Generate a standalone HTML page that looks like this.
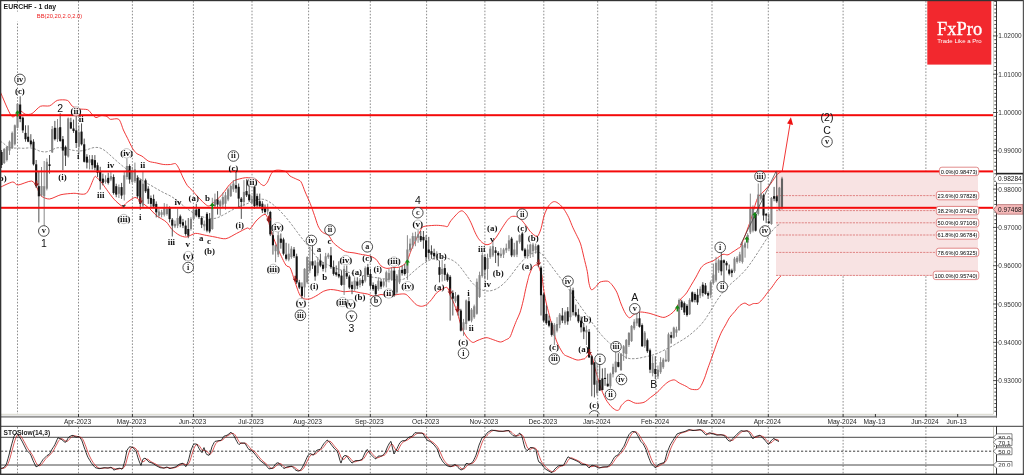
<!DOCTYPE html>
<html><head><meta charset="utf-8"><title>EURCHF - 1 day</title>
<style>
html,body{margin:0;padding:0;background:#fff;width:1024px;height:475px;overflow:hidden;font-family:"Liberation Sans",sans-serif;}
</style></head><body>
<svg width="1024" height="475" viewBox="0 0 1024 475" style="display:block;position:absolute;left:0;top:0;will-change:transform;opacity:0.9999">
<rect x="0" y="0" width="1024" height="475" fill="#ffffff"/>
<line x1="17.5" y1="1" x2="17.5" y2="414" stroke="#8e8e8e" stroke-width="1" stroke-dasharray="1.6 1.6"/>
<line x1="17.5" y1="427" x2="17.5" y2="474" stroke="#8e8e8e" stroke-width="1" stroke-dasharray="1.6 1.6"/>
<line x1="78.5" y1="1" x2="78.5" y2="414" stroke="#8e8e8e" stroke-width="1" stroke-dasharray="1.6 1.6"/>
<line x1="78.5" y1="427" x2="78.5" y2="474" stroke="#8e8e8e" stroke-width="1" stroke-dasharray="1.6 1.6"/>
<line x1="132.4" y1="1" x2="132.4" y2="414" stroke="#8e8e8e" stroke-width="1" stroke-dasharray="1.6 1.6"/>
<line x1="132.4" y1="427" x2="132.4" y2="474" stroke="#8e8e8e" stroke-width="1" stroke-dasharray="1.6 1.6"/>
<line x1="193.4" y1="1" x2="193.4" y2="414" stroke="#8e8e8e" stroke-width="1" stroke-dasharray="1.6 1.6"/>
<line x1="193.4" y1="427" x2="193.4" y2="474" stroke="#8e8e8e" stroke-width="1" stroke-dasharray="1.6 1.6"/>
<line x1="252.0" y1="1" x2="252.0" y2="414" stroke="#8e8e8e" stroke-width="1" stroke-dasharray="1.6 1.6"/>
<line x1="252.0" y1="427" x2="252.0" y2="474" stroke="#8e8e8e" stroke-width="1" stroke-dasharray="1.6 1.6"/>
<line x1="308.6" y1="1" x2="308.6" y2="414" stroke="#8e8e8e" stroke-width="1" stroke-dasharray="1.6 1.6"/>
<line x1="308.6" y1="427" x2="308.6" y2="474" stroke="#8e8e8e" stroke-width="1" stroke-dasharray="1.6 1.6"/>
<line x1="370.3" y1="1" x2="370.3" y2="414" stroke="#8e8e8e" stroke-width="1" stroke-dasharray="1.6 1.6"/>
<line x1="370.3" y1="427" x2="370.3" y2="474" stroke="#8e8e8e" stroke-width="1" stroke-dasharray="1.6 1.6"/>
<line x1="426.6" y1="1" x2="426.6" y2="414" stroke="#8e8e8e" stroke-width="1" stroke-dasharray="1.6 1.6"/>
<line x1="426.6" y1="427" x2="426.6" y2="474" stroke="#8e8e8e" stroke-width="1" stroke-dasharray="1.6 1.6"/>
<line x1="484.9" y1="1" x2="484.9" y2="414" stroke="#8e8e8e" stroke-width="1" stroke-dasharray="1.6 1.6"/>
<line x1="484.9" y1="427" x2="484.9" y2="474" stroke="#8e8e8e" stroke-width="1" stroke-dasharray="1.6 1.6"/>
<line x1="543.8" y1="1" x2="543.8" y2="414" stroke="#8e8e8e" stroke-width="1" stroke-dasharray="1.6 1.6"/>
<line x1="543.8" y1="427" x2="543.8" y2="474" stroke="#8e8e8e" stroke-width="1" stroke-dasharray="1.6 1.6"/>
<line x1="597.7" y1="1" x2="597.7" y2="414" stroke="#8e8e8e" stroke-width="1" stroke-dasharray="1.6 1.6"/>
<line x1="597.7" y1="427" x2="597.7" y2="474" stroke="#8e8e8e" stroke-width="1" stroke-dasharray="1.6 1.6"/>
<line x1="656.0" y1="1" x2="656.0" y2="414" stroke="#8e8e8e" stroke-width="1" stroke-dasharray="1.6 1.6"/>
<line x1="656.0" y1="427" x2="656.0" y2="474" stroke="#8e8e8e" stroke-width="1" stroke-dasharray="1.6 1.6"/>
<line x1="712.0" y1="1" x2="712.0" y2="414" stroke="#8e8e8e" stroke-width="1" stroke-dasharray="1.6 1.6"/>
<line x1="712.0" y1="427" x2="712.0" y2="474" stroke="#8e8e8e" stroke-width="1" stroke-dasharray="1.6 1.6"/>
<line x1="768.3" y1="1" x2="768.3" y2="414" stroke="#8e8e8e" stroke-width="1" stroke-dasharray="1.6 1.6"/>
<line x1="768.3" y1="427" x2="768.3" y2="474" stroke="#8e8e8e" stroke-width="1" stroke-dasharray="1.6 1.6"/>
<line x1="843.1" y1="1" x2="843.1" y2="414" stroke="#8e8e8e" stroke-width="1" stroke-dasharray="1.6 1.6"/>
<line x1="843.1" y1="427" x2="843.1" y2="474" stroke="#8e8e8e" stroke-width="1" stroke-dasharray="1.6 1.6"/>
<line x1="925.9" y1="1" x2="925.9" y2="414" stroke="#8e8e8e" stroke-width="1" stroke-dasharray="1.6 1.6"/>
<line x1="925.9" y1="427" x2="925.9" y2="474" stroke="#8e8e8e" stroke-width="1" stroke-dasharray="1.6 1.6"/>
<rect x="2" y="11.6" width="34" height="10" fill="#ffffff"/>
<rect x="776" y="171.5" width="202" height="104.5" fill="#f8e3e3"/>
<line x1="776" y1="195.6" x2="978" y2="195.6" stroke="#d65c5c" stroke-width="0.7" stroke-dasharray="2.2 1"/>
<line x1="776" y1="210.6" x2="978" y2="210.6" stroke="#d65c5c" stroke-width="0.7" stroke-dasharray="2.2 1"/>
<line x1="776" y1="222.8" x2="978" y2="222.8" stroke="#d65c5c" stroke-width="0.7" stroke-dasharray="2.2 1"/>
<line x1="776" y1="235.0" x2="978" y2="235.0" stroke="#d65c5c" stroke-width="0.7" stroke-dasharray="2.2 1"/>
<line x1="776" y1="252.4" x2="978" y2="252.4" stroke="#d65c5c" stroke-width="0.7" stroke-dasharray="2.2 1"/>
<line x1="776" y1="275.4" x2="978" y2="275.4" stroke="#d65c5c" stroke-width="0.7" stroke-dasharray="2.2 1"/>
<path d="M0.0 91.2 C1.7 94.7 9.1 113.7 11.8 116.4 C14.5 119.1 17.5 110.8 19.4 110.5 C21.3 110.2 23.5 113.8 25.3 114.2 C27.1 114.6 29.9 114.7 32.0 113.6 C34.1 112.5 37.9 107.4 40.4 106.3 C42.9 105.2 47.3 106.6 49.7 105.8 C52.1 105.0 54.8 101.2 57.3 100.4 C59.8 99.6 65.3 99.6 67.4 100.4 C69.5 101.2 70.7 105.1 72.4 106.3 C74.1 107.5 77.1 108.4 79.2 108.9 C81.3 109.4 85.8 109.0 87.6 109.7 C89.4 110.4 90.6 112.9 91.8 114.0 C93.0 115.1 94.7 117.4 96.0 117.6 C97.3 117.8 99.5 115.8 101.0 115.6 C102.5 115.4 105.7 115.9 107.0 116.4 C108.3 116.9 108.6 118.9 110.3 119.3 C112.0 119.7 117.0 117.8 118.8 119.3 C120.6 120.8 122.2 127.3 123.4 130.0 C124.6 132.7 126.3 135.8 127.6 138.4 C128.9 141.0 131.3 146.4 132.6 148.5 C133.9 150.6 135.5 152.5 136.8 153.6 C138.1 154.7 140.2 155.0 141.9 156.1 C143.6 157.2 146.6 160.2 148.6 161.2 C150.6 162.2 154.1 162.4 156.2 162.9 C158.3 163.4 161.8 164.3 163.8 164.5 C165.8 164.7 168.8 164.6 170.5 164.5 C172.2 164.4 174.4 163.1 175.6 163.7 C176.8 164.3 177.9 166.7 179.0 168.7 C180.1 170.7 182.0 175.6 183.2 178.0 C184.4 180.4 186.1 183.8 187.4 185.6 C188.7 187.4 191.0 189.1 192.4 190.6 C193.8 192.1 196.1 195.0 197.5 196.5 C198.9 198.0 201.1 200.3 202.5 201.6 C203.9 202.9 206.4 205.3 207.6 205.8 C208.8 206.3 210.1 205.6 211.0 205.0 C211.9 204.4 213.1 202.7 214.3 201.6 C215.5 200.5 218.0 198.8 219.4 197.4 C220.8 196.0 223.0 193.3 224.4 191.5 C225.8 189.7 228.1 186.2 229.5 184.7 C230.9 183.2 233.2 181.3 234.6 180.5 C236.0 179.7 238.1 179.3 239.6 178.9 C241.1 178.5 243.8 177.8 245.5 177.7 C247.2 177.6 249.9 177.7 251.4 178.0 C252.9 178.3 255.2 178.9 256.5 179.7 C257.8 180.5 259.6 183.1 260.7 183.9 C261.8 184.7 263.1 185.8 264.0 185.6 C264.9 185.4 266.4 183.7 267.4 182.2 C268.4 180.7 269.9 176.2 270.8 174.6 C271.7 173.0 273.0 171.4 274.1 170.8 C275.2 170.2 277.1 170.1 278.4 170.1 C279.7 170.1 282.2 170.5 283.4 170.8 C284.6 171.1 285.9 171.6 286.8 172.3 C287.7 173.0 288.6 175.0 290.0 176.0 C291.4 177.0 295.3 178.5 296.8 179.3 C298.3 180.1 299.8 180.0 301.0 181.8 C302.2 183.6 303.9 188.9 305.2 192.0 C306.5 195.1 309.0 200.4 310.3 203.7 C311.6 207.0 313.4 212.4 314.5 215.5 C315.6 218.6 317.0 223.4 317.9 225.6 C318.8 227.8 320.4 230.0 321.2 231.0 C322.0 232.0 322.6 232.4 323.7 233.0 C324.8 233.6 327.4 234.3 328.7 235.6 C330.0 236.9 331.6 240.6 333.0 242.3 C334.4 244.0 337.1 246.1 338.9 247.4 C340.7 248.7 343.5 250.8 345.6 251.6 C347.7 252.4 351.6 252.5 354.0 252.9 C356.4 253.3 360.3 254.2 362.4 254.6 C364.5 255.0 367.3 255.2 369.2 255.8 C371.1 256.4 374.2 257.8 375.9 259.2 C377.6 260.6 379.5 264.6 381.0 265.9 C382.5 267.2 385.2 268.2 386.9 268.4 C388.6 268.6 391.0 267.8 392.8 267.6 C394.6 267.4 397.8 267.6 399.5 267.1 C401.2 266.6 403.4 265.3 404.6 264.2 C405.8 263.1 407.0 261.2 407.9 259.2 C408.8 257.2 410.2 252.5 411.3 249.9 C412.4 247.3 414.3 243.1 415.5 240.6 C416.7 238.1 418.7 234.1 419.7 232.2 C420.7 230.3 421.3 228.2 422.3 227.3 C423.3 226.4 424.5 226.3 426.5 226.0 C428.5 225.7 434.1 225.3 436.6 225.3 C439.1 225.3 442.7 225.8 444.2 226.0 C445.7 226.2 446.8 227.1 447.6 226.5 C448.4 225.9 449.0 223.5 450.0 222.0 C451.0 220.5 453.7 217.4 455.0 216.0 C456.3 214.6 458.2 212.5 459.3 211.8 C460.4 211.1 461.6 210.5 462.6 211.0 C463.7 211.5 465.6 213.5 466.8 215.2 C468.0 216.9 469.8 220.3 471.0 222.8 C472.2 225.3 474.2 230.7 475.3 232.9 C476.4 235.1 477.6 237.4 478.6 238.8 C479.7 240.2 481.6 242.2 482.8 243.0 C484.0 243.8 485.8 244.7 487.0 244.7 C488.2 244.7 490.0 244.1 491.3 243.0 C492.6 241.9 494.8 239.2 496.3 237.1 C497.8 235.0 500.7 230.2 502.2 227.8 C503.7 225.4 506.0 221.9 507.3 220.3 C508.6 218.7 510.2 217.1 511.5 216.6 C512.8 216.1 515.2 216.2 516.5 216.6 C517.8 217.0 519.7 218.3 521.0 219.5 C522.3 220.7 524.5 223.7 525.8 225.3 C527.1 226.9 528.8 229.8 530.0 231.2 C531.2 232.6 533.1 234.4 534.2 235.1 C535.3 235.8 536.6 237.2 537.6 236.3 C538.6 235.4 540.1 231.7 541.0 228.7 C541.9 225.7 543.2 218.4 544.3 215.2 C545.3 212.0 547.3 207.8 548.5 206.0 C549.7 204.2 551.7 202.6 552.8 202.0 C553.9 201.4 555.1 201.6 556.1 202.0 C557.1 202.4 559.1 203.9 560.3 205.0 C561.5 206.1 563.4 208.4 564.6 210.2 C565.8 212.0 567.6 215.2 568.8 217.7 C570.0 220.2 571.8 225.2 573.0 227.8 C574.2 230.4 576.1 234.0 577.2 236.3 C578.3 238.6 579.7 241.0 580.6 243.9 C581.5 246.8 583.0 253.4 583.9 257.3 C584.8 261.2 586.6 267.9 587.3 271.6 C588.0 275.3 588.4 280.9 589.0 283.4 C589.6 285.9 590.4 289.4 591.5 289.8 C592.6 290.2 595.4 287.1 596.6 286.0 C597.8 284.9 598.5 282.8 600.0 282.1 C601.5 281.4 605.9 280.8 607.6 281.2 C609.3 281.6 610.5 283.1 611.8 284.6 C613.1 286.1 615.5 289.5 616.8 292.2 C618.1 294.9 619.9 301.1 621.1 304.0 C622.3 306.9 624.1 311.3 625.3 313.2 C626.5 315.1 628.2 317.7 629.5 317.8 C630.8 317.9 633.0 314.9 634.5 314.1 C636.0 313.3 638.4 312.1 640.4 312.0 C642.4 311.9 646.5 312.7 648.9 313.2 C651.3 313.7 655.2 315.2 657.3 315.8 C659.4 316.4 662.1 317.6 664.0 317.4 C665.9 317.2 669.1 315.3 670.8 314.1 C672.5 312.9 674.4 311.1 675.8 309.0 C677.2 306.9 679.5 301.0 680.9 298.9 C682.3 296.8 684.5 295.8 685.9 293.9 C687.3 292.0 689.6 287.8 691.0 285.4 C692.4 283.0 694.6 279.5 696.0 277.0 C697.4 274.5 699.7 269.6 701.1 267.7 C702.5 265.8 704.4 264.4 706.1 263.5 C707.8 262.6 711.2 261.8 712.9 261.0 C714.6 260.2 716.5 258.5 717.9 257.6 C719.3 256.7 721.6 254.7 723.0 254.3 C724.4 253.9 726.6 255.2 728.0 254.8 C729.4 254.4 731.7 252.6 733.1 251.7 C734.5 250.8 737.0 249.3 738.1 248.4 C739.2 247.5 739.6 248.9 741.3 245.0 C743.0 241.1 748.3 227.1 750.5 220.6 C752.7 214.1 755.5 202.7 757.3 198.7 C759.1 194.7 761.3 194.1 763.2 192.0 C765.1 189.9 768.9 185.9 770.8 183.5 C772.7 181.1 775.3 176.7 776.7 175.0 C778.1 173.3 780.4 172.2 781.0 171.7" fill="none" stroke="#ee2222" stroke-width="0.9"/>
<path d="M0.0 187.4 C1.8 186.6 10.1 182.3 12.6 182.0 C15.1 181.7 15.3 185.1 18.0 185.0 C20.7 184.9 29.0 180.7 31.6 181.0 C34.2 181.3 35.5 185.3 36.8 187.4 C38.1 189.5 39.2 194.2 41.0 195.8 C42.8 197.4 46.7 199.2 49.5 199.0 C52.3 198.8 57.6 195.5 61.0 194.7 C64.4 193.9 70.2 193.5 73.7 193.3 C77.2 193.1 83.4 195.5 86.3 193.3 C89.2 191.1 92.9 179.5 94.3 177.3 C95.7 175.1 95.6 176.9 96.5 177.5 C97.4 178.1 99.4 179.8 100.8 181.5 C102.2 183.2 104.9 187.1 106.7 189.6 C108.5 192.1 111.9 196.9 114.0 199.2 C116.1 201.5 120.1 205.0 121.5 205.9 C122.9 206.8 123.2 205.8 124.0 205.3 C124.8 204.8 125.9 203.3 127.4 202.2 C128.9 201.1 133.1 197.8 134.8 197.5 C136.5 197.2 137.8 198.9 139.2 200.0 C140.6 201.1 143.6 203.8 145.0 205.0 C146.4 206.2 147.8 207.0 149.5 208.5 C151.2 210.0 154.4 213.9 156.8 215.8 C159.2 217.7 164.2 220.1 166.3 222.0 C168.4 223.9 170.2 227.7 172.0 229.5 C173.8 231.3 177.0 233.9 179.0 235.0 C181.0 236.1 184.1 237.2 186.4 237.0 C188.7 236.8 192.8 233.7 195.3 233.4 C197.8 233.1 201.5 234.5 204.3 235.0 C207.1 235.5 212.0 236.5 215.0 237.0 C218.0 237.5 222.8 239.2 225.8 238.7 C228.8 238.2 233.6 234.9 236.6 233.4 C239.6 231.9 245.4 228.6 247.3 228.0 C249.2 227.4 248.6 230.1 250.0 229.0 C251.4 227.9 254.8 222.0 257.0 220.0 C259.2 218.0 264.0 213.0 266.0 214.8 C268.0 216.6 269.7 227.7 271.5 232.7 C273.3 237.7 276.7 246.1 278.7 250.6 C280.7 255.1 284.2 262.6 285.8 265.0 C287.4 267.4 288.9 265.9 290.0 267.6 C291.1 269.3 292.5 274.2 293.4 276.9 C294.3 279.6 295.8 284.4 296.7 287.0 C297.6 289.6 299.0 293.7 300.1 295.4 C301.2 297.1 302.9 298.3 304.3 298.8 C305.7 299.3 308.4 299.3 310.2 298.8 C312.0 298.3 315.1 296.5 317.0 295.4 C318.9 294.3 321.8 292.0 323.7 291.2 C325.6 290.4 328.5 289.6 330.4 289.5 C332.3 289.4 335.3 290.0 337.2 290.3 C339.1 290.6 341.8 291.6 343.9 291.7 C346.0 291.8 349.9 291.0 352.3 291.2 C354.7 291.4 358.7 292.5 360.8 292.9 C362.9 293.3 365.6 293.5 367.5 294.0 C369.4 294.5 372.3 296.1 374.2 296.2 C376.1 296.3 379.1 294.6 381.0 294.5 C382.9 294.4 385.8 295.3 387.7 295.4 C389.6 295.5 392.5 295.2 394.4 295.0 C396.3 294.8 399.5 294.1 401.2 294.0 C402.9 293.9 404.8 293.7 406.2 294.5 C407.6 295.3 409.9 298.2 411.3 299.6 C412.7 301.0 414.9 303.8 416.3 304.7 C417.7 305.6 420.0 306.3 421.4 306.3 C422.8 306.3 425.1 305.6 426.5 304.7 C427.9 303.8 430.1 301.3 431.5 299.6 C432.9 297.9 435.2 294.3 436.6 292.9 C438.0 291.5 440.2 290.3 441.6 289.5 C443.0 288.7 445.6 287.1 446.7 287.3 C447.8 287.5 448.7 290.1 449.2 291.2 C449.7 292.3 449.4 293.7 450.0 295.2 C450.6 296.7 452.3 299.4 453.4 302.0 C454.5 304.6 456.5 310.4 457.6 313.7 C458.7 317.0 460.1 322.8 461.0 325.5 C461.9 328.2 463.4 331.3 464.3 333.1 C465.2 334.9 466.5 336.9 467.7 338.2 C468.9 339.5 471.4 342.0 472.7 342.4 C474.0 342.8 475.7 341.2 477.0 340.7 C478.3 340.2 480.6 339.1 482.0 338.7 C483.4 338.3 485.4 337.5 487.1 337.7 C488.8 337.9 491.9 339.3 493.8 339.9 C495.7 340.5 498.8 342.0 500.5 342.0 C502.2 342.0 504.3 340.6 505.6 339.9 C506.9 339.2 508.7 338.8 509.8 337.3 C510.9 335.8 512.3 331.3 513.2 328.9 C514.1 326.5 515.6 322.7 516.5 320.5 C517.4 318.3 518.9 315.7 519.9 312.9 C520.9 310.1 522.5 303.7 523.3 300.3 C524.1 296.9 525.1 291.6 525.8 288.5 C526.5 285.4 527.8 280.3 528.3 278.4 C528.8 276.5 528.6 276.5 529.2 275.0 C529.8 273.5 531.6 268.8 532.5 267.4 C533.4 266.0 535.1 265.1 535.9 264.9 C536.7 264.7 537.8 265.0 538.4 265.8 C539.0 266.6 539.6 269.5 540.1 270.8 C540.6 272.1 541.3 272.5 541.8 275.0 C542.3 277.5 542.9 284.7 543.5 288.5 C544.1 292.3 545.2 298.2 546.0 302.0 C546.8 305.8 548.4 311.6 549.4 315.4 C550.4 319.2 551.9 325.5 552.8 328.9 C553.7 332.3 555.2 337.3 556.1 339.9 C557.0 342.5 558.4 345.4 559.5 347.4 C560.6 349.4 562.5 352.9 563.7 354.2 C564.9 355.5 566.1 355.7 568.0 356.5 C569.9 357.3 574.9 359.6 577.0 360.0 C579.1 360.4 581.9 359.2 583.0 359.0 C584.1 358.8 584.0 359.3 585.0 358.5 C586.0 357.7 588.9 353.5 590.0 353.5 C591.1 353.5 591.9 356.4 592.6 358.5 C593.3 360.6 594.3 365.5 595.1 368.6 C595.9 371.7 597.6 377.3 598.5 380.4 C599.4 383.5 600.7 387.8 601.8 390.5 C602.9 393.2 604.8 397.6 606.1 399.8 C607.4 402.0 609.9 405.2 611.1 406.5 C612.3 407.8 613.7 408.8 614.5 409.3 C615.3 409.8 615.9 410.2 616.5 410.3 C617.1 410.4 618.0 410.5 618.5 410.2 C619.0 409.9 619.4 409.1 619.8 408.5 C620.2 407.9 620.4 406.7 621.2 405.7 C622.0 404.7 624.3 402.3 625.4 401.5 C626.5 400.7 627.4 400.1 628.8 400.3 C630.2 400.5 633.4 402.9 635.5 403.2 C637.6 403.5 641.9 403.1 644.0 402.3 C646.1 401.5 648.8 398.7 650.7 397.3 C652.6 395.9 655.5 393.9 657.4 392.2 C659.3 390.5 662.5 386.6 664.2 385.1 C665.9 383.6 667.8 382.0 669.2 381.3 C670.6 380.6 672.9 379.7 674.3 379.9 C675.7 380.1 677.6 382.1 679.3 383.0 C681.0 383.9 684.4 385.4 686.1 386.3 C687.8 387.2 689.4 388.8 691.1 389.2 C692.8 389.6 696.5 389.9 697.9 389.4 C699.3 388.9 700.3 387.1 701.2 385.5 C702.1 383.9 703.6 380.4 704.6 377.9 C705.6 375.4 707.0 370.5 708.0 367.8 C709.0 365.1 710.5 361.1 711.4 358.5 C712.3 355.9 713.8 351.9 714.7 349.3 C715.6 346.7 717.1 342.4 718.1 340.0 C719.1 337.6 720.5 334.1 721.5 332.0 C722.5 329.9 724.4 327.0 725.5 325.0 C726.6 323.0 728.4 319.3 729.7 317.4 C731.0 315.5 733.4 313.2 734.8 311.5 C736.2 309.8 738.4 306.8 739.8 305.6 C741.2 304.4 743.6 303.1 744.9 303.1 C746.2 303.1 747.9 305.2 749.1 305.3 C750.3 305.4 752.0 303.9 753.3 303.6 C754.6 303.3 757.0 303.9 758.4 303.1 C759.8 302.3 762.0 299.8 763.4 298.1 C764.8 296.4 767.3 292.8 768.5 291.3 C769.7 289.8 770.8 288.7 772.0 287.1 C773.2 285.5 775.7 281.6 777.0 280.0 C778.3 278.4 780.4 276.6 781.0 276.0" fill="none" stroke="#ee2222" stroke-width="0.9"/>
<path d="M0.0 141.2 L3.0 142.8 L6.0 145.6 L9.0 147.4 L12.0 148.1 L15.0 148.1 L18.0 148.0 L21.0 148.2 L24.0 148.3 L27.0 148.0 L30.0 147.8 L33.0 148.3 L36.0 149.4 L39.0 150.9 L42.0 151.6 L45.0 152.0 L48.0 151.5 L51.0 150.4 L54.0 148.9 L57.0 147.8 L60.0 147.6 L63.0 148.0 L66.0 148.7 L69.0 149.4 L72.0 150.1 L75.0 150.6 L78.0 150.9 L81.0 150.9 L84.0 150.4 L87.0 149.7 L90.0 148.7 L93.0 147.7 L96.0 147.4 L99.0 147.6 L102.0 148.8 L105.0 150.7 L108.0 153.2 L111.0 155.9 L114.0 158.7 L117.0 161.3 L120.0 163.9 L123.0 166.4 L126.0 168.7 L129.0 170.7 L132.0 172.8 L135.0 174.9 L138.0 177.2 L141.0 179.4 L144.0 181.5 L147.0 183.3 L150.0 184.9 L153.0 186.6 L156.0 188.4 L159.0 190.1 L162.0 191.8 L165.0 193.3 L168.0 194.7 L171.0 196.3 L174.0 198.2 L177.0 200.5 L180.0 203.0 L183.0 205.5 L186.0 207.8 L189.0 210.0 L192.0 212.1 L195.0 213.9 L198.0 215.4 L201.0 216.5 L204.0 217.2 L207.0 217.9 L210.0 218.4 L213.0 218.6 L216.0 218.2 L219.0 217.1 L222.0 215.6 L225.0 214.0 L228.0 212.3 L231.0 210.6 L234.0 209.0 L237.0 207.6 L240.0 206.3 L243.0 205.2 L246.0 204.1 L249.0 202.9 L252.0 201.7 L255.0 200.4 L258.0 199.5 L261.0 199.1 L264.0 199.4 L267.0 200.6 L270.0 202.3 L273.0 204.5 L276.0 207.0 L279.0 209.8 L282.0 213.0 L285.0 216.3 L288.0 219.9 L291.0 223.7 L294.0 227.7 L297.0 231.8 L300.0 235.8 L303.0 239.7 L306.0 243.3 L309.0 246.7 L312.0 250.6 L315.0 254.9 L318.0 258.8 L321.0 261.3 L324.0 262.9 L327.0 264.4 L330.0 265.8 L333.0 267.1 L336.0 268.3 L339.0 269.4 L342.0 270.4 L345.0 271.4 L348.0 272.2 L351.0 273.0 L354.0 273.7 L357.0 274.4 L360.0 275.0 L363.0 275.6 L366.0 276.1 L369.0 276.6 L372.0 277.1 L375.0 277.5 L378.0 277.9 L381.0 278.4 L384.0 278.8 L387.0 279.2 L390.0 279.5 L393.0 279.8 L396.0 279.9 L399.0 280.0 L402.0 279.6 L405.0 278.6 L408.0 276.5 L411.0 273.9 L414.0 271.1 L417.0 268.6 L420.0 266.1 L423.0 263.9 L426.0 262.1 L429.0 260.4 L432.0 259.1 L435.0 258.1 L438.0 257.3 L441.0 257.1 L444.0 257.4 L447.0 258.1 L450.0 259.2 L453.0 260.5 L456.0 262.6 L459.0 265.4 L462.0 269.2 L465.0 273.3 L468.0 277.4 L471.0 281.3 L474.0 284.7 L477.0 287.3 L480.0 289.1 L483.0 290.3 L486.0 290.9 L489.0 291.0 L492.0 290.5 L495.0 289.5 L498.0 288.0 L501.0 285.9 L504.0 283.3 L507.0 280.1 L510.0 276.7 L513.0 272.7 L516.0 268.7 L519.0 264.8 L522.0 261.3 L525.0 258.4 L528.0 255.9 L531.0 254.0 L534.0 252.7 L537.0 251.9 L540.0 252.7 L543.0 255.1 L546.0 258.9 L549.0 262.9 L552.0 266.9 L555.0 270.9 L558.0 274.8 L561.0 278.7 L564.0 282.5 L567.0 286.6 L570.0 290.8 L573.0 295.3 L576.0 299.8 L579.0 304.2 L582.0 308.5 L585.0 312.7 L588.0 316.9 L591.0 321.1 L594.0 325.3 L597.0 329.3 L600.0 333.2 L603.0 336.8 L606.0 339.9 L609.0 342.6 L612.0 345.3 L615.0 348.3 L618.0 351.3 L621.0 354.0 L624.0 356.4 L627.0 357.9 L630.0 358.7 L633.0 358.7 L636.0 358.6 L639.0 358.2 L642.0 357.5 L645.0 356.9 L648.0 356.2 L651.0 355.5 L654.0 354.6 L657.0 353.5 L660.0 352.2 L663.0 350.7 L666.0 349.2 L669.0 347.7 L672.0 346.1 L675.0 344.4 L678.0 342.6 L681.0 340.8 L684.0 339.0 L687.0 337.0 L690.0 334.8 L693.0 332.2 L696.0 329.6 L699.0 326.8 L702.0 323.4 L705.0 319.6 L708.0 315.1 L711.0 310.2 L714.0 305.2 L717.0 300.4 L720.0 296.1 L723.0 292.1 L726.0 288.7 L729.0 285.6 L732.0 282.8 L735.0 280.2 L738.0 277.6 L741.0 274.7 L744.0 271.6 L747.0 268.1 L750.0 264.1 L753.0 259.8 L756.0 255.3 L759.0 250.7 L762.0 246.1 L765.0 241.4 L768.0 236.8 L771.0 232.4 L774.0 228.7 L777.0 225.6 L780.0 224.2" fill="none" stroke="#777777" stroke-width="0.8" stroke-dasharray="2.5 1.5"/>
<line x1="1.54" y1="150.0" x2="1.54" y2="168.0" stroke="#3c3c3c" stroke-width="0.9"/>
<rect x="0.49" y="152.0" width="2.1" height="13.0" fill="#141414"/>
<line x1="4.20" y1="148.0" x2="4.20" y2="164.0" stroke="#7a7a7a" stroke-width="0.9"/>
<rect x="3.15" y="149.0" width="2.1" height="14.0" fill="#858585"/>
<line x1="6.86" y1="146.0" x2="6.86" y2="161.5" stroke="#7a7a7a" stroke-width="0.9"/>
<rect x="5.81" y="147.0" width="2.1" height="13.0" fill="#858585"/>
<line x1="9.52" y1="140.5" x2="9.52" y2="155.0" stroke="#7a7a7a" stroke-width="0.9"/>
<rect x="8.47" y="141.7" width="2.1" height="8.9" fill="#858585"/>
<line x1="12.18" y1="131.5" x2="12.18" y2="149.0" stroke="#7a7a7a" stroke-width="0.9"/>
<rect x="11.13" y="132.9" width="2.1" height="15.1" fill="#858585"/>
<line x1="14.84" y1="124.5" x2="14.84" y2="145.5" stroke="#7a7a7a" stroke-width="0.9"/>
<rect x="13.79" y="125.3" width="2.1" height="19.0" fill="#858585"/>
<line x1="17.50" y1="103.2" x2="17.50" y2="128.5" stroke="#7a7a7a" stroke-width="0.9"/>
<rect x="16.45" y="103.8" width="2.1" height="24.0" fill="#858585"/>
<line x1="20.17" y1="96.3" x2="20.17" y2="122.2" stroke="#3c3c3c" stroke-width="0.9"/>
<rect x="19.12" y="104.5" width="2.1" height="14.5" fill="#141414"/>
<line x1="22.84" y1="116.5" x2="22.84" y2="132.9" stroke="#3c3c3c" stroke-width="0.9"/>
<rect x="21.79" y="117.7" width="2.1" height="12.7" fill="#141414"/>
<line x1="25.51" y1="125.3" x2="25.51" y2="141.7" stroke="#3c3c3c" stroke-width="0.9"/>
<rect x="24.46" y="132.9" width="2.1" height="6.3" fill="#141414"/>
<line x1="28.17" y1="125.3" x2="28.17" y2="142.2" stroke="#3c3c3c" stroke-width="0.9"/>
<rect x="27.12" y="136.7" width="2.1" height="5.0" fill="#141414"/>
<line x1="30.84" y1="134.2" x2="30.84" y2="146.8" stroke="#3c3c3c" stroke-width="0.9"/>
<rect x="29.79" y="140.5" width="2.1" height="3.8" fill="#141414"/>
<line x1="33.51" y1="139.2" x2="33.51" y2="165.5" stroke="#3c3c3c" stroke-width="0.9"/>
<rect x="32.46" y="141.7" width="2.1" height="22.6" fill="#141414"/>
<line x1="36.18" y1="160.0" x2="36.18" y2="188.0" stroke="#3c3c3c" stroke-width="0.9"/>
<rect x="35.13" y="164.3" width="2.1" height="21.9" fill="#141414"/>
<line x1="38.85" y1="172.0" x2="38.85" y2="222.4" stroke="#3c3c3c" stroke-width="0.9"/>
<rect x="37.80" y="186.2" width="2.1" height="10.1" fill="#141414"/>
<line x1="41.52" y1="167.0" x2="41.52" y2="196.5" stroke="#7a7a7a" stroke-width="0.9"/>
<rect x="40.47" y="186.0" width="2.1" height="9.5" fill="#858585"/>
<line x1="44.18" y1="161.0" x2="44.18" y2="225.8" stroke="#7a7a7a" stroke-width="0.9"/>
<rect x="43.13" y="186.2" width="2.1" height="10.1" fill="#858585"/>
<line x1="46.85" y1="158.4" x2="46.85" y2="190.4" stroke="#7a7a7a" stroke-width="0.9"/>
<rect x="45.80" y="161.8" width="2.1" height="26.9" fill="#858585"/>
<line x1="49.52" y1="155.0" x2="49.52" y2="173.6" stroke="#3c3c3c" stroke-width="0.9"/>
<rect x="48.47" y="164.3" width="2.1" height="1.7" fill="#141414"/>
<line x1="52.19" y1="126.0" x2="52.19" y2="153.0" stroke="#7a7a7a" stroke-width="0.9"/>
<rect x="51.14" y="129.1" width="2.1" height="23.2" fill="#858585"/>
<line x1="54.86" y1="120.9" x2="54.86" y2="140.5" stroke="#3c3c3c" stroke-width="0.9"/>
<rect x="53.81" y="127.8" width="2.1" height="11.4" fill="#141414"/>
<line x1="57.53" y1="119.0" x2="57.53" y2="142.0" stroke="#7a7a7a" stroke-width="0.9"/>
<rect x="56.48" y="127.8" width="2.1" height="11.4" fill="#858585"/>
<line x1="60.20" y1="113.3" x2="60.20" y2="141.7" stroke="#3c3c3c" stroke-width="0.9"/>
<rect x="59.15" y="127.2" width="2.1" height="13.9" fill="#141414"/>
<line x1="62.86" y1="136.0" x2="62.86" y2="170.2" stroke="#3c3c3c" stroke-width="0.9"/>
<rect x="61.81" y="139.2" width="2.1" height="11.4" fill="#141414"/>
<line x1="65.53" y1="145.5" x2="65.53" y2="166.0" stroke="#3c3c3c" stroke-width="0.9"/>
<rect x="64.48" y="146.8" width="2.1" height="8.8" fill="#141414"/>
<line x1="68.20" y1="117.5" x2="68.20" y2="157.6" stroke="#7a7a7a" stroke-width="0.9"/>
<rect x="67.15" y="118.4" width="2.1" height="38.1" fill="#858585"/>
<line x1="70.87" y1="117.7" x2="70.87" y2="129.1" stroke="#3c3c3c" stroke-width="0.9"/>
<rect x="69.82" y="122.2" width="2.1" height="6.3" fill="#141414"/>
<line x1="73.54" y1="119.6" x2="73.54" y2="132.9" stroke="#3c3c3c" stroke-width="0.9"/>
<rect x="72.49" y="128.5" width="2.1" height="2.5" fill="#141414"/>
<line x1="76.21" y1="115.2" x2="76.21" y2="148.0" stroke="#3c3c3c" stroke-width="0.9"/>
<rect x="75.16" y="130.4" width="2.1" height="12.6" fill="#141414"/>
<line x1="78.88" y1="125.3" x2="78.88" y2="154.4" stroke="#7a7a7a" stroke-width="0.9"/>
<rect x="77.83" y="132.3" width="2.1" height="14.5" fill="#858585"/>
<line x1="81.54" y1="123.4" x2="81.54" y2="145.5" stroke="#3c3c3c" stroke-width="0.9"/>
<rect x="80.49" y="131.6" width="2.1" height="12.7" fill="#141414"/>
<line x1="84.21" y1="138.6" x2="84.21" y2="162.5" stroke="#3c3c3c" stroke-width="0.9"/>
<rect x="83.16" y="144.3" width="2.1" height="17.5" fill="#141414"/>
<line x1="86.88" y1="154.2" x2="86.88" y2="168.5" stroke="#3c3c3c" stroke-width="0.9"/>
<rect x="85.83" y="156.7" width="2.1" height="5.9" fill="#141414"/>
<line x1="89.55" y1="155.1" x2="89.55" y2="169.4" stroke="#7a7a7a" stroke-width="0.9"/>
<rect x="88.50" y="159.3" width="2.1" height="3.4" fill="#858585"/>
<line x1="92.22" y1="155.1" x2="92.22" y2="169.4" stroke="#3c3c3c" stroke-width="0.9"/>
<rect x="91.17" y="159.3" width="2.1" height="5.9" fill="#141414"/>
<line x1="94.89" y1="155.1" x2="94.89" y2="170.2" stroke="#3c3c3c" stroke-width="0.9"/>
<rect x="93.84" y="160.1" width="2.1" height="7.6" fill="#141414"/>
<line x1="97.55" y1="162.6" x2="97.55" y2="177.0" stroke="#3c3c3c" stroke-width="0.9"/>
<rect x="96.50" y="165.2" width="2.1" height="7.6" fill="#141414"/>
<line x1="100.22" y1="166.8" x2="100.22" y2="189.6" stroke="#3c3c3c" stroke-width="0.9"/>
<rect x="99.17" y="171.9" width="2.1" height="9.3" fill="#141414"/>
<line x1="102.89" y1="173.6" x2="102.89" y2="185.4" stroke="#3c3c3c" stroke-width="0.9"/>
<rect x="101.84" y="178.6" width="2.1" height="4.2" fill="#141414"/>
<line x1="105.56" y1="175.3" x2="105.56" y2="183.7" stroke="#7a7a7a" stroke-width="0.9"/>
<rect x="104.51" y="179.5" width="2.1" height="2.5" fill="#858585"/>
<line x1="108.23" y1="172.7" x2="108.23" y2="184.5" stroke="#3c3c3c" stroke-width="0.9"/>
<rect x="107.18" y="177.8" width="2.1" height="5.1" fill="#141414"/>
<line x1="110.90" y1="171.9" x2="110.90" y2="181.2" stroke="#7a7a7a" stroke-width="0.9"/>
<rect x="109.85" y="176.1" width="2.1" height="3.4" fill="#858585"/>
<line x1="113.57" y1="174.4" x2="113.57" y2="194.6" stroke="#3c3c3c" stroke-width="0.9"/>
<rect x="112.52" y="177.0" width="2.1" height="16.0" fill="#141414"/>
<line x1="116.23" y1="183.7" x2="116.23" y2="197.2" stroke="#3c3c3c" stroke-width="0.9"/>
<rect x="115.18" y="186.2" width="2.1" height="8.4" fill="#141414"/>
<line x1="118.90" y1="184.5" x2="118.90" y2="198.0" stroke="#7a7a7a" stroke-width="0.9"/>
<rect x="117.85" y="187.1" width="2.1" height="6.7" fill="#858585"/>
<line x1="121.57" y1="182.9" x2="121.57" y2="198.9" stroke="#3c3c3c" stroke-width="0.9"/>
<rect x="120.52" y="187.1" width="2.1" height="8.4" fill="#141414"/>
<line x1="124.24" y1="171.9" x2="124.24" y2="200.5" stroke="#7a7a7a" stroke-width="0.9"/>
<rect x="123.19" y="175.3" width="2.1" height="19.4" fill="#858585"/>
<line x1="126.91" y1="158.4" x2="126.91" y2="179.5" stroke="#7a7a7a" stroke-width="0.9"/>
<rect x="125.86" y="166.0" width="2.1" height="11.0" fill="#858585"/>
<line x1="129.58" y1="164.3" x2="129.58" y2="183.7" stroke="#3c3c3c" stroke-width="0.9"/>
<rect x="128.53" y="166.0" width="2.1" height="13.5" fill="#141414"/>
<line x1="132.25" y1="166.8" x2="132.25" y2="183.7" stroke="#7a7a7a" stroke-width="0.9"/>
<rect x="131.20" y="170.2" width="2.1" height="11.8" fill="#858585"/>
<line x1="134.91" y1="162.6" x2="134.91" y2="182.9" stroke="#7a7a7a" stroke-width="0.9"/>
<rect x="133.86" y="169.4" width="2.1" height="11.8" fill="#858585"/>
<line x1="137.58" y1="175.3" x2="137.58" y2="198.0" stroke="#3c3c3c" stroke-width="0.9"/>
<rect x="136.53" y="177.8" width="2.1" height="18.5" fill="#141414"/>
<line x1="140.25" y1="178.6" x2="140.25" y2="209.8" stroke="#3c3c3c" stroke-width="0.9"/>
<rect x="139.20" y="180.3" width="2.1" height="23.6" fill="#141414"/>
<line x1="142.92" y1="171.9" x2="142.92" y2="207.3" stroke="#7a7a7a" stroke-width="0.9"/>
<rect x="141.87" y="183.7" width="2.1" height="21.9" fill="#858585"/>
<line x1="145.59" y1="178.6" x2="145.59" y2="193.0" stroke="#3c3c3c" stroke-width="0.9"/>
<rect x="144.54" y="180.3" width="2.1" height="11.0" fill="#141414"/>
<line x1="148.26" y1="186.2" x2="148.26" y2="203.9" stroke="#3c3c3c" stroke-width="0.9"/>
<rect x="147.21" y="188.7" width="2.1" height="10.1" fill="#141414"/>
<line x1="150.92" y1="195.5" x2="150.92" y2="207.3" stroke="#3c3c3c" stroke-width="0.9"/>
<rect x="149.87" y="198.0" width="2.1" height="5.9" fill="#141414"/>
<line x1="153.59" y1="194.6" x2="153.59" y2="208.1" stroke="#3c3c3c" stroke-width="0.9"/>
<rect x="152.54" y="198.9" width="2.1" height="7.6" fill="#141414"/>
<line x1="156.26" y1="201.4" x2="156.26" y2="217.4" stroke="#3c3c3c" stroke-width="0.9"/>
<rect x="155.21" y="203.9" width="2.1" height="8.4" fill="#141414"/>
<line x1="158.93" y1="209.0" x2="158.93" y2="218.2" stroke="#7a7a7a" stroke-width="0.9"/>
<rect x="157.88" y="211.5" width="2.1" height="4.2" fill="#858585"/>
<line x1="161.60" y1="209.8" x2="161.60" y2="217.4" stroke="#7a7a7a" stroke-width="0.9"/>
<rect x="160.55" y="212.3" width="2.1" height="2.5" fill="#858585"/>
<line x1="164.27" y1="203.1" x2="164.27" y2="216.5" stroke="#7a7a7a" stroke-width="0.9"/>
<rect x="163.22" y="208.1" width="2.1" height="6.7" fill="#858585"/>
<line x1="166.94" y1="203.9" x2="166.94" y2="215.7" stroke="#7a7a7a" stroke-width="0.9"/>
<rect x="165.89" y="209.0" width="2.1" height="5.1" fill="#858585"/>
<line x1="169.60" y1="206.4" x2="169.60" y2="222.4" stroke="#3c3c3c" stroke-width="0.9"/>
<rect x="168.55" y="208.1" width="2.1" height="11.0" fill="#141414"/>
<line x1="172.27" y1="218.0" x2="172.27" y2="236.5" stroke="#3c3c3c" stroke-width="0.9"/>
<rect x="171.22" y="219.7" width="2.1" height="5.9" fill="#141414"/>
<line x1="174.94" y1="220.5" x2="174.94" y2="228.1" stroke="#7a7a7a" stroke-width="0.9"/>
<rect x="173.89" y="223.9" width="2.1" height="2.5" fill="#858585"/>
<line x1="177.61" y1="208.7" x2="177.61" y2="228.1" stroke="#7a7a7a" stroke-width="0.9"/>
<rect x="176.56" y="218.0" width="2.1" height="7.6" fill="#858585"/>
<line x1="180.28" y1="214.6" x2="180.28" y2="227.3" stroke="#3c3c3c" stroke-width="0.9"/>
<rect x="179.23" y="216.3" width="2.1" height="7.6" fill="#141414"/>
<line x1="182.95" y1="218.9" x2="182.95" y2="228.1" stroke="#3c3c3c" stroke-width="0.9"/>
<rect x="181.90" y="222.2" width="2.1" height="3.4" fill="#141414"/>
<line x1="185.62" y1="220.5" x2="185.62" y2="235.7" stroke="#3c3c3c" stroke-width="0.9"/>
<rect x="184.57" y="225.6" width="2.1" height="8.4" fill="#141414"/>
<line x1="188.28" y1="218.0" x2="188.28" y2="238.2" stroke="#3c3c3c" stroke-width="0.9"/>
<rect x="187.23" y="229.0" width="2.1" height="6.7" fill="#141414"/>
<line x1="190.95" y1="217.2" x2="190.95" y2="230.6" stroke="#7a7a7a" stroke-width="0.9"/>
<rect x="189.90" y="218.9" width="2.1" height="10.1" fill="#858585"/>
<line x1="193.62" y1="206.2" x2="193.62" y2="220.5" stroke="#7a7a7a" stroke-width="0.9"/>
<rect x="192.57" y="209.6" width="2.1" height="9.3" fill="#858585"/>
<line x1="196.29" y1="203.7" x2="196.29" y2="217.2" stroke="#3c3c3c" stroke-width="0.9"/>
<rect x="195.24" y="209.6" width="2.1" height="5.9" fill="#141414"/>
<line x1="198.96" y1="207.9" x2="198.96" y2="218.9" stroke="#3c3c3c" stroke-width="0.9"/>
<rect x="197.91" y="208.7" width="2.1" height="8.4" fill="#141414"/>
<line x1="201.63" y1="216.3" x2="201.63" y2="228.1" stroke="#3c3c3c" stroke-width="0.9"/>
<rect x="200.58" y="218.0" width="2.1" height="6.7" fill="#141414"/>
<line x1="204.29" y1="220.5" x2="204.29" y2="230.6" stroke="#7a7a7a" stroke-width="0.9"/>
<rect x="203.24" y="223.9" width="2.1" height="2.5" fill="#858585"/>
<line x1="206.96" y1="212.1" x2="206.96" y2="232.3" stroke="#3c3c3c" stroke-width="0.9"/>
<rect x="205.91" y="213.8" width="2.1" height="16.8" fill="#141414"/>
<line x1="209.63" y1="213.0" x2="209.63" y2="233.2" stroke="#3c3c3c" stroke-width="0.9"/>
<rect x="208.58" y="218.9" width="2.1" height="12.6" fill="#141414"/>
<line x1="212.30" y1="197.8" x2="212.30" y2="229.8" stroke="#7a7a7a" stroke-width="0.9"/>
<rect x="211.25" y="207.9" width="2.1" height="21.1" fill="#858585"/>
<line x1="214.94" y1="193.6" x2="214.94" y2="207.9" stroke="#7a7a7a" stroke-width="0.9"/>
<rect x="213.89" y="199.5" width="2.1" height="6.7" fill="#858585"/>
<line x1="217.57" y1="191.1" x2="217.57" y2="214.6" stroke="#3c3c3c" stroke-width="0.9"/>
<rect x="216.52" y="199.5" width="2.1" height="5.1" fill="#141414"/>
<line x1="220.21" y1="199.5" x2="220.21" y2="215.5" stroke="#7a7a7a" stroke-width="0.9"/>
<rect x="219.16" y="201.2" width="2.1" height="5.1" fill="#858585"/>
<line x1="222.85" y1="192.7" x2="222.85" y2="207.1" stroke="#7a7a7a" stroke-width="0.9"/>
<rect x="221.80" y="197.0" width="2.1" height="7.6" fill="#858585"/>
<line x1="225.48" y1="191.9" x2="225.48" y2="209.6" stroke="#7a7a7a" stroke-width="0.9"/>
<rect x="224.43" y="195.3" width="2.1" height="8.4" fill="#858585"/>
<line x1="228.12" y1="187.7" x2="228.12" y2="201.2" stroke="#7a7a7a" stroke-width="0.9"/>
<rect x="227.07" y="189.4" width="2.1" height="10.1" fill="#858585"/>
<line x1="230.76" y1="184.3" x2="230.76" y2="197.0" stroke="#7a7a7a" stroke-width="0.9"/>
<rect x="229.71" y="186.0" width="2.1" height="10.1" fill="#858585"/>
<line x1="233.39" y1="180.1" x2="233.39" y2="191.9" stroke="#7a7a7a" stroke-width="0.9"/>
<rect x="232.34" y="183.5" width="2.1" height="5.9" fill="#858585"/>
<line x1="236.03" y1="170.0" x2="236.03" y2="192.7" stroke="#3c3c3c" stroke-width="0.9"/>
<rect x="234.98" y="185.2" width="2.1" height="3.4" fill="#141414"/>
<line x1="238.66" y1="183.5" x2="238.66" y2="207.1" stroke="#3c3c3c" stroke-width="0.9"/>
<rect x="237.61" y="186.8" width="2.1" height="11.8" fill="#141414"/>
<line x1="241.30" y1="197.0" x2="241.30" y2="218.9" stroke="#3c3c3c" stroke-width="0.9"/>
<rect x="240.25" y="198.6" width="2.1" height="3.4" fill="#141414"/>
<line x1="243.94" y1="180.1" x2="243.94" y2="206.2" stroke="#7a7a7a" stroke-width="0.9"/>
<rect x="242.89" y="191.9" width="2.1" height="10.1" fill="#858585"/>
<line x1="246.57" y1="179.3" x2="246.57" y2="197.0" stroke="#3c3c3c" stroke-width="0.9"/>
<rect x="245.52" y="191.1" width="2.1" height="4.2" fill="#141414"/>
<line x1="249.21" y1="180.1" x2="249.21" y2="202.0" stroke="#3c3c3c" stroke-width="0.9"/>
<rect x="248.16" y="194.4" width="2.1" height="5.9" fill="#141414"/>
<line x1="251.85" y1="195.3" x2="251.85" y2="204.5" stroke="#7a7a7a" stroke-width="0.9"/>
<rect x="250.80" y="198.6" width="2.1" height="4.2" fill="#858585"/>
<line x1="254.48" y1="185.2" x2="254.48" y2="208.7" stroke="#3c3c3c" stroke-width="0.9"/>
<rect x="253.43" y="186.8" width="2.1" height="19.4" fill="#141414"/>
<line x1="257.12" y1="193.6" x2="257.12" y2="207.1" stroke="#3c3c3c" stroke-width="0.9"/>
<rect x="256.07" y="196.1" width="2.1" height="9.3" fill="#141414"/>
<line x1="259.76" y1="193.6" x2="259.76" y2="207.9" stroke="#3c3c3c" stroke-width="0.9"/>
<rect x="258.71" y="201.2" width="2.1" height="5.1" fill="#141414"/>
<line x1="262.39" y1="201.2" x2="262.39" y2="213.0" stroke="#3c3c3c" stroke-width="0.9"/>
<rect x="261.34" y="203.7" width="2.1" height="6.7" fill="#141414"/>
<line x1="265.03" y1="204.5" x2="265.03" y2="213.8" stroke="#3c3c3c" stroke-width="0.9"/>
<rect x="263.98" y="207.9" width="2.1" height="4.2" fill="#141414"/>
<line x1="267.67" y1="203.7" x2="267.67" y2="214.6" stroke="#7a7a7a" stroke-width="0.9"/>
<rect x="266.62" y="207.9" width="2.1" height="3.4" fill="#858585"/>
<line x1="270.30" y1="210.8" x2="270.30" y2="236.1" stroke="#3c3c3c" stroke-width="0.9"/>
<rect x="269.25" y="212.0" width="2.1" height="22.4" fill="#141414"/>
<line x1="272.94" y1="231.8" x2="272.94" y2="254.6" stroke="#3c3c3c" stroke-width="0.9"/>
<rect x="271.89" y="235.2" width="2.1" height="10.1" fill="#141414"/>
<line x1="275.58" y1="244.5" x2="275.58" y2="262.2" stroke="#7a7a7a" stroke-width="0.9"/>
<rect x="274.53" y="245.3" width="2.1" height="5.9" fill="#858585"/>
<line x1="278.21" y1="231.8" x2="278.21" y2="257.1" stroke="#7a7a7a" stroke-width="0.9"/>
<rect x="277.16" y="235.2" width="2.1" height="19.4" fill="#858585"/>
<line x1="280.85" y1="233.5" x2="280.85" y2="248.7" stroke="#3c3c3c" stroke-width="0.9"/>
<rect x="279.80" y="238.6" width="2.1" height="4.2" fill="#141414"/>
<line x1="283.49" y1="237.7" x2="283.49" y2="255.4" stroke="#3c3c3c" stroke-width="0.9"/>
<rect x="282.44" y="239.4" width="2.1" height="14.3" fill="#141414"/>
<line x1="286.12" y1="242.8" x2="286.12" y2="260.5" stroke="#3c3c3c" stroke-width="0.9"/>
<rect x="285.07" y="254.6" width="2.1" height="4.2" fill="#141414"/>
<line x1="288.76" y1="243.6" x2="288.76" y2="261.3" stroke="#7a7a7a" stroke-width="0.9"/>
<rect x="287.71" y="253.7" width="2.1" height="5.9" fill="#858585"/>
<line x1="291.39" y1="246.2" x2="291.39" y2="258.8" stroke="#7a7a7a" stroke-width="0.9"/>
<rect x="290.34" y="248.7" width="2.1" height="8.4" fill="#858585"/>
<line x1="294.03" y1="247.0" x2="294.03" y2="258.0" stroke="#3c3c3c" stroke-width="0.9"/>
<rect x="292.98" y="249.5" width="2.1" height="6.7" fill="#141414"/>
<line x1="296.67" y1="253.7" x2="296.67" y2="284.1" stroke="#3c3c3c" stroke-width="0.9"/>
<rect x="295.62" y="256.3" width="2.1" height="26.1" fill="#141414"/>
<line x1="299.30" y1="279.9" x2="299.30" y2="289.1" stroke="#3c3c3c" stroke-width="0.9"/>
<rect x="298.25" y="282.4" width="2.1" height="5.1" fill="#141414"/>
<line x1="301.94" y1="282.4" x2="301.94" y2="299.2" stroke="#3c3c3c" stroke-width="0.9"/>
<rect x="300.89" y="286.6" width="2.1" height="9.3" fill="#141414"/>
<line x1="304.58" y1="268.1" x2="304.58" y2="297.5" stroke="#7a7a7a" stroke-width="0.9"/>
<rect x="303.53" y="268.9" width="2.1" height="18.5" fill="#858585"/>
<line x1="307.21" y1="256.3" x2="307.21" y2="284.1" stroke="#7a7a7a" stroke-width="0.9"/>
<rect x="306.16" y="257.1" width="2.1" height="25.3" fill="#858585"/>
<line x1="309.85" y1="247.0" x2="309.85" y2="273.1" stroke="#7a7a7a" stroke-width="0.9"/>
<rect x="308.80" y="261.3" width="2.1" height="9.3" fill="#858585"/>
<line x1="312.49" y1="246.2" x2="312.49" y2="268.9" stroke="#3c3c3c" stroke-width="0.9"/>
<rect x="311.44" y="261.3" width="2.1" height="4.2" fill="#141414"/>
<line x1="315.12" y1="260.5" x2="315.12" y2="280.7" stroke="#3c3c3c" stroke-width="0.9"/>
<rect x="314.07" y="265.5" width="2.1" height="11.0" fill="#141414"/>
<line x1="317.76" y1="257.1" x2="317.76" y2="275.6" stroke="#7a7a7a" stroke-width="0.9"/>
<rect x="316.71" y="262.2" width="2.1" height="11.0" fill="#858585"/>
<line x1="320.40" y1="253.7" x2="320.40" y2="267.2" stroke="#3c3c3c" stroke-width="0.9"/>
<rect x="319.35" y="260.5" width="2.1" height="5.1" fill="#141414"/>
<line x1="323.03" y1="262.2" x2="323.03" y2="271.4" stroke="#3c3c3c" stroke-width="0.9"/>
<rect x="321.98" y="264.7" width="2.1" height="4.2" fill="#141414"/>
<line x1="325.67" y1="252.9" x2="325.67" y2="272.3" stroke="#7a7a7a" stroke-width="0.9"/>
<rect x="324.62" y="256.3" width="2.1" height="11.8" fill="#858585"/>
<line x1="328.31" y1="252.9" x2="328.31" y2="258.8" stroke="#7a7a7a" stroke-width="0.9"/>
<rect x="327.26" y="254.6" width="2.1" height="2.5" fill="#858585"/>
<line x1="330.94" y1="247.0" x2="330.94" y2="268.9" stroke="#3c3c3c" stroke-width="0.9"/>
<rect x="329.89" y="255.4" width="2.1" height="11.8" fill="#141414"/>
<line x1="333.58" y1="260.5" x2="333.58" y2="275.6" stroke="#3c3c3c" stroke-width="0.9"/>
<rect x="332.53" y="267.2" width="2.1" height="6.7" fill="#141414"/>
<line x1="336.21" y1="265.5" x2="336.21" y2="276.5" stroke="#3c3c3c" stroke-width="0.9"/>
<rect x="335.16" y="272.3" width="2.1" height="2.5" fill="#141414"/>
<line x1="338.85" y1="261.3" x2="338.85" y2="278.2" stroke="#3c3c3c" stroke-width="0.9"/>
<rect x="337.80" y="274.0" width="2.1" height="2.5" fill="#141414"/>
<line x1="341.49" y1="270.6" x2="341.49" y2="285.8" stroke="#3c3c3c" stroke-width="0.9"/>
<rect x="340.44" y="275.6" width="2.1" height="9.3" fill="#141414"/>
<line x1="344.12" y1="265.5" x2="344.12" y2="295.0" stroke="#7a7a7a" stroke-width="0.9"/>
<rect x="343.07" y="268.9" width="2.1" height="16.0" fill="#858585"/>
<line x1="346.76" y1="265.5" x2="346.76" y2="279.0" stroke="#3c3c3c" stroke-width="0.9"/>
<rect x="345.71" y="273.1" width="2.1" height="3.4" fill="#141414"/>
<line x1="349.40" y1="274.8" x2="349.40" y2="289.1" stroke="#3c3c3c" stroke-width="0.9"/>
<rect x="348.35" y="276.5" width="2.1" height="11.0" fill="#141414"/>
<line x1="352.03" y1="281.5" x2="352.03" y2="294.2" stroke="#3c3c3c" stroke-width="0.9"/>
<rect x="350.98" y="284.9" width="2.1" height="4.2" fill="#141414"/>
<line x1="354.67" y1="277.3" x2="354.67" y2="290.8" stroke="#7a7a7a" stroke-width="0.9"/>
<rect x="353.62" y="280.7" width="2.1" height="8.4" fill="#858585"/>
<line x1="357.31" y1="277.3" x2="357.31" y2="289.1" stroke="#3c3c3c" stroke-width="0.9"/>
<rect x="356.26" y="281.5" width="2.1" height="4.2" fill="#141414"/>
<line x1="359.94" y1="278.2" x2="359.94" y2="287.4" stroke="#7a7a7a" stroke-width="0.9"/>
<rect x="358.89" y="279.9" width="2.1" height="5.1" fill="#858585"/>
<line x1="362.58" y1="275.6" x2="362.58" y2="285.8" stroke="#3c3c3c" stroke-width="0.9"/>
<rect x="361.53" y="279.9" width="2.1" height="3.4" fill="#141414"/>
<line x1="365.22" y1="266.4" x2="365.22" y2="282.4" stroke="#7a7a7a" stroke-width="0.9"/>
<rect x="364.17" y="268.1" width="2.1" height="12.6" fill="#858585"/>
<line x1="367.85" y1="263.9" x2="367.85" y2="276.5" stroke="#3c3c3c" stroke-width="0.9"/>
<rect x="366.80" y="267.2" width="2.1" height="7.6" fill="#141414"/>
<line x1="370.49" y1="268.9" x2="370.49" y2="289.1" stroke="#3c3c3c" stroke-width="0.9"/>
<rect x="369.44" y="274.0" width="2.1" height="11.8" fill="#141414"/>
<line x1="373.13" y1="282.4" x2="373.13" y2="290.8" stroke="#3c3c3c" stroke-width="0.9"/>
<rect x="372.08" y="284.9" width="2.1" height="4.2" fill="#141414"/>
<line x1="375.76" y1="284.1" x2="375.76" y2="295.9" stroke="#3c3c3c" stroke-width="0.9"/>
<rect x="374.71" y="285.8" width="2.1" height="8.4" fill="#141414"/>
<line x1="378.40" y1="277.3" x2="378.40" y2="290.8" stroke="#7a7a7a" stroke-width="0.9"/>
<rect x="377.35" y="280.7" width="2.1" height="8.4" fill="#858585"/>
<line x1="381.04" y1="279.0" x2="381.04" y2="289.1" stroke="#3c3c3c" stroke-width="0.9"/>
<rect x="379.99" y="281.5" width="2.1" height="5.1" fill="#141414"/>
<line x1="383.67" y1="279.0" x2="383.67" y2="287.4" stroke="#7a7a7a" stroke-width="0.9"/>
<rect x="382.62" y="281.5" width="2.1" height="4.2" fill="#858585"/>
<line x1="386.31" y1="270.6" x2="386.31" y2="287.4" stroke="#7a7a7a" stroke-width="0.9"/>
<rect x="385.26" y="272.3" width="2.1" height="9.3" fill="#858585"/>
<line x1="388.94" y1="268.9" x2="388.94" y2="282.4" stroke="#7a7a7a" stroke-width="0.9"/>
<rect x="387.89" y="273.1" width="2.1" height="6.7" fill="#858585"/>
<line x1="391.58" y1="267.2" x2="391.58" y2="280.7" stroke="#7a7a7a" stroke-width="0.9"/>
<rect x="390.53" y="270.6" width="2.1" height="8.4" fill="#858585"/>
<line x1="394.22" y1="267.2" x2="394.22" y2="296.7" stroke="#3c3c3c" stroke-width="0.9"/>
<rect x="393.17" y="270.6" width="2.1" height="24.4" fill="#141414"/>
<line x1="396.85" y1="274.0" x2="396.85" y2="294.2" stroke="#7a7a7a" stroke-width="0.9"/>
<rect x="395.80" y="275.6" width="2.1" height="16.8" fill="#858585"/>
<line x1="399.49" y1="267.2" x2="399.49" y2="284.1" stroke="#7a7a7a" stroke-width="0.9"/>
<rect x="398.44" y="269.8" width="2.1" height="12.6" fill="#858585"/>
<line x1="402.13" y1="265.5" x2="402.13" y2="275.6" stroke="#3c3c3c" stroke-width="0.9"/>
<rect x="401.08" y="269.8" width="2.1" height="3.4" fill="#141414"/>
<line x1="404.76" y1="263.9" x2="404.76" y2="275.6" stroke="#3c3c3c" stroke-width="0.9"/>
<rect x="403.71" y="268.9" width="2.1" height="5.1" fill="#141414"/>
<line x1="407.40" y1="235.2" x2="407.40" y2="279.9" stroke="#7a7a7a" stroke-width="0.9"/>
<rect x="406.35" y="249.5" width="2.1" height="23.6" fill="#858585"/>
<line x1="410.07" y1="238.6" x2="410.07" y2="252.1" stroke="#7a7a7a" stroke-width="0.9"/>
<rect x="409.02" y="243.6" width="2.1" height="6.7" fill="#858585"/>
<line x1="412.74" y1="232.7" x2="412.74" y2="248.7" stroke="#7a7a7a" stroke-width="0.9"/>
<rect x="411.69" y="236.1" width="2.1" height="9.3" fill="#858585"/>
<line x1="415.42" y1="231.8" x2="415.42" y2="246.2" stroke="#7a7a7a" stroke-width="0.9"/>
<rect x="414.37" y="236.1" width="2.1" height="5.1" fill="#858585"/>
<line x1="418.09" y1="230.2" x2="418.09" y2="242.8" stroke="#7a7a7a" stroke-width="0.9"/>
<rect x="417.04" y="234.4" width="2.1" height="3.4" fill="#858585"/>
<line x1="420.76" y1="231.0" x2="420.76" y2="242.0" stroke="#3c3c3c" stroke-width="0.9"/>
<rect x="419.71" y="236.1" width="2.1" height="4.2" fill="#141414"/>
<line x1="423.43" y1="231.0" x2="423.43" y2="248.7" stroke="#3c3c3c" stroke-width="0.9"/>
<rect x="422.38" y="236.9" width="2.1" height="3.4" fill="#141414"/>
<line x1="426.10" y1="235.2" x2="426.10" y2="261.3" stroke="#3c3c3c" stroke-width="0.9"/>
<rect x="425.05" y="240.3" width="2.1" height="16.8" fill="#141414"/>
<line x1="428.78" y1="236.9" x2="428.78" y2="259.6" stroke="#3c3c3c" stroke-width="0.9"/>
<rect x="427.73" y="249.5" width="2.1" height="3.4" fill="#141414"/>
<line x1="431.45" y1="245.3" x2="431.45" y2="258.8" stroke="#3c3c3c" stroke-width="0.9"/>
<rect x="430.40" y="251.2" width="2.1" height="3.4" fill="#141414"/>
<line x1="434.12" y1="248.7" x2="434.12" y2="259.6" stroke="#3c3c3c" stroke-width="0.9"/>
<rect x="433.07" y="252.9" width="2.1" height="3.4" fill="#141414"/>
<line x1="436.79" y1="251.2" x2="436.79" y2="260.5" stroke="#7a7a7a" stroke-width="0.9"/>
<rect x="435.74" y="253.7" width="2.1" height="3.4" fill="#858585"/>
<line x1="439.46" y1="260.5" x2="439.46" y2="282.4" stroke="#3c3c3c" stroke-width="0.9"/>
<rect x="438.41" y="267.2" width="2.1" height="7.6" fill="#141414"/>
<line x1="442.14" y1="259.6" x2="442.14" y2="281.5" stroke="#7a7a7a" stroke-width="0.9"/>
<rect x="441.09" y="268.9" width="2.1" height="5.1" fill="#858585"/>
<line x1="444.81" y1="263.9" x2="444.81" y2="280.7" stroke="#3c3c3c" stroke-width="0.9"/>
<rect x="443.76" y="268.1" width="2.1" height="6.7" fill="#141414"/>
<line x1="447.48" y1="272.6" x2="447.48" y2="281.8" stroke="#3c3c3c" stroke-width="0.9"/>
<rect x="446.43" y="274.3" width="2.1" height="5.9" fill="#141414"/>
<line x1="450.15" y1="275.1" x2="450.15" y2="320.6" stroke="#3c3c3c" stroke-width="0.9"/>
<rect x="449.10" y="276.8" width="2.1" height="16.0" fill="#141414"/>
<line x1="452.82" y1="290.3" x2="452.82" y2="315.5" stroke="#3c3c3c" stroke-width="0.9"/>
<rect x="451.77" y="292.8" width="2.1" height="5.9" fill="#141414"/>
<line x1="455.50" y1="292.0" x2="455.50" y2="302.9" stroke="#7a7a7a" stroke-width="0.9"/>
<rect x="454.45" y="296.2" width="2.1" height="5.1" fill="#858585"/>
<line x1="458.17" y1="294.5" x2="458.17" y2="315.5" stroke="#3c3c3c" stroke-width="0.9"/>
<rect x="457.12" y="295.3" width="2.1" height="15.2" fill="#141414"/>
<line x1="460.84" y1="308.8" x2="460.84" y2="331.5" stroke="#3c3c3c" stroke-width="0.9"/>
<rect x="459.79" y="310.5" width="2.1" height="20.2" fill="#141414"/>
<line x1="463.51" y1="318.9" x2="463.51" y2="335.8" stroke="#7a7a7a" stroke-width="0.9"/>
<rect x="462.46" y="322.3" width="2.1" height="7.6" fill="#858585"/>
<line x1="466.19" y1="299.5" x2="466.19" y2="329.9" stroke="#7a7a7a" stroke-width="0.9"/>
<rect x="465.14" y="300.4" width="2.1" height="23.6" fill="#858585"/>
<line x1="468.86" y1="297.0" x2="468.86" y2="321.4" stroke="#3c3c3c" stroke-width="0.9"/>
<rect x="467.81" y="301.2" width="2.1" height="19.4" fill="#141414"/>
<line x1="471.53" y1="308.0" x2="471.53" y2="322.3" stroke="#7a7a7a" stroke-width="0.9"/>
<rect x="470.48" y="309.6" width="2.1" height="11.0" fill="#858585"/>
<line x1="474.20" y1="304.6" x2="474.20" y2="318.9" stroke="#7a7a7a" stroke-width="0.9"/>
<rect x="473.15" y="306.3" width="2.1" height="11.0" fill="#858585"/>
<line x1="476.87" y1="278.5" x2="476.87" y2="314.7" stroke="#7a7a7a" stroke-width="0.9"/>
<rect x="475.82" y="281.8" width="2.1" height="32.0" fill="#858585"/>
<line x1="479.55" y1="271.7" x2="479.55" y2="297.9" stroke="#7a7a7a" stroke-width="0.9"/>
<rect x="478.50" y="275.1" width="2.1" height="21.9" fill="#858585"/>
<line x1="482.22" y1="252.4" x2="482.22" y2="277.6" stroke="#7a7a7a" stroke-width="0.9"/>
<rect x="481.17" y="254.9" width="2.1" height="21.1" fill="#858585"/>
<line x1="484.89" y1="254.6" x2="484.89" y2="279.0" stroke="#3c3c3c" stroke-width="0.9"/>
<rect x="483.84" y="257.1" width="2.1" height="12.6" fill="#141414"/>
<line x1="487.56" y1="253.7" x2="487.56" y2="279.9" stroke="#7a7a7a" stroke-width="0.9"/>
<rect x="486.51" y="258.0" width="2.1" height="11.0" fill="#858585"/>
<line x1="490.23" y1="246.2" x2="490.23" y2="258.8" stroke="#7a7a7a" stroke-width="0.9"/>
<rect x="489.18" y="248.7" width="2.1" height="8.4" fill="#858585"/>
<line x1="492.91" y1="240.3" x2="492.91" y2="257.1" stroke="#7a7a7a" stroke-width="0.9"/>
<rect x="491.86" y="246.2" width="2.1" height="9.3" fill="#858585"/>
<line x1="495.58" y1="247.0" x2="495.58" y2="263.0" stroke="#3c3c3c" stroke-width="0.9"/>
<rect x="494.53" y="250.4" width="2.1" height="2.5" fill="#141414"/>
<line x1="498.25" y1="251.2" x2="498.25" y2="266.4" stroke="#3c3c3c" stroke-width="0.9"/>
<rect x="497.20" y="252.9" width="2.1" height="2.5" fill="#141414"/>
<line x1="500.92" y1="247.9" x2="500.92" y2="258.0" stroke="#7a7a7a" stroke-width="0.9"/>
<rect x="499.87" y="253.7" width="2.1" height="2.5" fill="#858585"/>
<line x1="503.59" y1="247.9" x2="503.59" y2="258.0" stroke="#7a7a7a" stroke-width="0.9"/>
<rect x="502.54" y="249.5" width="2.1" height="5.1" fill="#858585"/>
<line x1="506.27" y1="243.6" x2="506.27" y2="252.9" stroke="#7a7a7a" stroke-width="0.9"/>
<rect x="505.22" y="247.9" width="2.1" height="2.5" fill="#858585"/>
<line x1="508.94" y1="235.2" x2="508.94" y2="251.2" stroke="#7a7a7a" stroke-width="0.9"/>
<rect x="507.89" y="240.3" width="2.1" height="8.4" fill="#858585"/>
<line x1="511.61" y1="236.9" x2="511.61" y2="257.1" stroke="#3c3c3c" stroke-width="0.9"/>
<rect x="510.56" y="238.6" width="2.1" height="16.8" fill="#141414"/>
<line x1="514.28" y1="242.8" x2="514.28" y2="257.1" stroke="#7a7a7a" stroke-width="0.9"/>
<rect x="513.23" y="249.5" width="2.1" height="5.9" fill="#858585"/>
<line x1="516.95" y1="240.3" x2="516.95" y2="257.1" stroke="#7a7a7a" stroke-width="0.9"/>
<rect x="515.90" y="241.1" width="2.1" height="13.5" fill="#858585"/>
<line x1="519.63" y1="234.4" x2="519.63" y2="243.6" stroke="#7a7a7a" stroke-width="0.9"/>
<rect x="518.58" y="235.2" width="2.1" height="6.7" fill="#858585"/>
<line x1="522.30" y1="231.8" x2="522.30" y2="251.2" stroke="#3c3c3c" stroke-width="0.9"/>
<rect x="521.25" y="233.5" width="2.1" height="16.8" fill="#141414"/>
<line x1="524.97" y1="247.9" x2="524.97" y2="258.0" stroke="#3c3c3c" stroke-width="0.9"/>
<rect x="523.92" y="249.5" width="2.1" height="6.7" fill="#141414"/>
<line x1="527.64" y1="244.5" x2="527.64" y2="258.8" stroke="#7a7a7a" stroke-width="0.9"/>
<rect x="526.59" y="249.5" width="2.1" height="6.7" fill="#858585"/>
<line x1="530.31" y1="243.6" x2="530.31" y2="258.0" stroke="#7a7a7a" stroke-width="0.9"/>
<rect x="529.26" y="244.5" width="2.1" height="9.3" fill="#858585"/>
<line x1="532.99" y1="242.8" x2="532.99" y2="257.1" stroke="#7a7a7a" stroke-width="0.9"/>
<rect x="531.94" y="244.5" width="2.1" height="6.7" fill="#858585"/>
<line x1="535.66" y1="243.6" x2="535.66" y2="253.7" stroke="#7a7a7a" stroke-width="0.9"/>
<rect x="534.61" y="246.2" width="2.1" height="4.2" fill="#858585"/>
<line x1="538.33" y1="244.5" x2="538.33" y2="267.2" stroke="#3c3c3c" stroke-width="0.9"/>
<rect x="537.28" y="245.3" width="2.1" height="16.8" fill="#141414"/>
<line x1="541.00" y1="265.8" x2="541.00" y2="315.5" stroke="#3c3c3c" stroke-width="0.9"/>
<rect x="539.95" y="267.5" width="2.1" height="27.8" fill="#141414"/>
<line x1="543.67" y1="292.8" x2="543.67" y2="322.3" stroke="#3c3c3c" stroke-width="0.9"/>
<rect x="542.62" y="294.5" width="2.1" height="26.1" fill="#141414"/>
<line x1="546.35" y1="305.4" x2="546.35" y2="324.8" stroke="#3c3c3c" stroke-width="0.9"/>
<rect x="545.30" y="313.9" width="2.1" height="9.3" fill="#141414"/>
<line x1="549.02" y1="315.5" x2="549.02" y2="327.3" stroke="#3c3c3c" stroke-width="0.9"/>
<rect x="547.97" y="320.6" width="2.1" height="5.1" fill="#141414"/>
<line x1="551.69" y1="321.4" x2="551.69" y2="336.6" stroke="#3c3c3c" stroke-width="0.9"/>
<rect x="550.64" y="323.1" width="2.1" height="11.8" fill="#141414"/>
<line x1="554.36" y1="323.1" x2="554.36" y2="345.0" stroke="#7a7a7a" stroke-width="0.9"/>
<rect x="553.31" y="324.8" width="2.1" height="11.0" fill="#858585"/>
<line x1="557.04" y1="317.2" x2="557.04" y2="332.4" stroke="#7a7a7a" stroke-width="0.9"/>
<rect x="555.99" y="324.0" width="2.1" height="6.7" fill="#858585"/>
<line x1="559.71" y1="313.0" x2="559.71" y2="328.2" stroke="#7a7a7a" stroke-width="0.9"/>
<rect x="558.66" y="314.7" width="2.1" height="10.1" fill="#858585"/>
<line x1="562.38" y1="308.0" x2="562.38" y2="323.1" stroke="#3c3c3c" stroke-width="0.9"/>
<rect x="561.33" y="315.5" width="2.1" height="5.1" fill="#141414"/>
<line x1="565.05" y1="310.5" x2="565.05" y2="324.8" stroke="#7a7a7a" stroke-width="0.9"/>
<rect x="564.00" y="312.2" width="2.1" height="11.0" fill="#858585"/>
<line x1="567.72" y1="307.1" x2="567.72" y2="324.8" stroke="#3c3c3c" stroke-width="0.9"/>
<rect x="566.67" y="311.3" width="2.1" height="10.1" fill="#141414"/>
<line x1="570.40" y1="286.9" x2="570.40" y2="320.6" stroke="#7a7a7a" stroke-width="0.9"/>
<rect x="569.35" y="289.4" width="2.1" height="27.8" fill="#858585"/>
<line x1="573.07" y1="287.7" x2="573.07" y2="315.5" stroke="#3c3c3c" stroke-width="0.9"/>
<rect x="572.02" y="290.3" width="2.1" height="21.9" fill="#141414"/>
<line x1="575.74" y1="304.6" x2="575.74" y2="317.2" stroke="#3c3c3c" stroke-width="0.9"/>
<rect x="574.69" y="312.2" width="2.1" height="3.4" fill="#141414"/>
<line x1="578.41" y1="308.8" x2="578.41" y2="323.1" stroke="#3c3c3c" stroke-width="0.9"/>
<rect x="577.36" y="314.7" width="2.1" height="6.7" fill="#141414"/>
<line x1="581.08" y1="316.4" x2="581.08" y2="332.4" stroke="#3c3c3c" stroke-width="0.9"/>
<rect x="580.03" y="320.6" width="2.1" height="6.7" fill="#141414"/>
<line x1="583.76" y1="323.1" x2="583.76" y2="339.1" stroke="#3c3c3c" stroke-width="0.9"/>
<rect x="582.71" y="327.3" width="2.1" height="4.2" fill="#141414"/>
<line x1="586.43" y1="325.6" x2="586.43" y2="345.0" stroke="#7a7a7a" stroke-width="0.9"/>
<rect x="585.38" y="329.9" width="2.1" height="2.5" fill="#858585"/>
<line x1="589.10" y1="329.0" x2="589.10" y2="358.0" stroke="#3c3c3c" stroke-width="0.9"/>
<rect x="588.05" y="331.8" width="2.1" height="25.6" fill="#141414"/>
<line x1="591.76" y1="355.0" x2="591.76" y2="396.3" stroke="#3c3c3c" stroke-width="0.9"/>
<rect x="590.71" y="356.3" width="2.1" height="8.4" fill="#141414"/>
<line x1="594.42" y1="362.0" x2="594.42" y2="397.4" stroke="#3c3c3c" stroke-width="0.9"/>
<rect x="593.37" y="362.6" width="2.1" height="22.1" fill="#141414"/>
<line x1="597.08" y1="362.6" x2="597.08" y2="395.3" stroke="#7a7a7a" stroke-width="0.9"/>
<rect x="596.03" y="380.5" width="2.1" height="12.7" fill="#858585"/>
<line x1="599.73" y1="364.7" x2="599.73" y2="391.0" stroke="#3c3c3c" stroke-width="0.9"/>
<rect x="598.68" y="380.0" width="2.1" height="10.5" fill="#141414"/>
<line x1="602.39" y1="368.4" x2="602.39" y2="390.5" stroke="#3c3c3c" stroke-width="0.9"/>
<rect x="601.34" y="378.4" width="2.1" height="11.6" fill="#141414"/>
<line x1="605.05" y1="367.9" x2="605.05" y2="385.8" stroke="#3c3c3c" stroke-width="0.9"/>
<rect x="604.00" y="377.9" width="2.1" height="1.1" fill="#141414"/>
<line x1="607.71" y1="373.7" x2="607.71" y2="386.8" stroke="#3c3c3c" stroke-width="0.9"/>
<rect x="606.66" y="383.7" width="2.1" height="2.6" fill="#141414"/>
<line x1="610.37" y1="372.6" x2="610.37" y2="388.4" stroke="#7a7a7a" stroke-width="0.9"/>
<rect x="609.32" y="373.7" width="2.1" height="12.6" fill="#858585"/>
<line x1="613.02" y1="363.7" x2="613.02" y2="377.4" stroke="#7a7a7a" stroke-width="0.9"/>
<rect x="611.98" y="366.8" width="2.1" height="7.4" fill="#858585"/>
<line x1="615.68" y1="352.1" x2="615.68" y2="372.6" stroke="#7a7a7a" stroke-width="0.9"/>
<rect x="614.63" y="361.6" width="2.1" height="10.5" fill="#858585"/>
<line x1="618.34" y1="353.2" x2="618.34" y2="367.4" stroke="#3c3c3c" stroke-width="0.9"/>
<rect x="617.29" y="362.1" width="2.1" height="4.7" fill="#141414"/>
<line x1="621.00" y1="353.0" x2="621.00" y2="371.0" stroke="#7a7a7a" stroke-width="0.9"/>
<rect x="619.95" y="353.7" width="2.1" height="16.3" fill="#858585"/>
<line x1="623.64" y1="345.0" x2="623.64" y2="360.8" stroke="#7a7a7a" stroke-width="0.9"/>
<rect x="622.59" y="346.3" width="2.1" height="7.0" fill="#858585"/>
<line x1="626.28" y1="339.0" x2="626.28" y2="359.0" stroke="#7a7a7a" stroke-width="0.9"/>
<rect x="625.23" y="340.0" width="2.1" height="13.9" fill="#858585"/>
<line x1="628.92" y1="332.0" x2="628.92" y2="347.0" stroke="#7a7a7a" stroke-width="0.9"/>
<rect x="627.87" y="333.0" width="2.1" height="12.0" fill="#858585"/>
<line x1="631.56" y1="325.1" x2="631.56" y2="341.9" stroke="#7a7a7a" stroke-width="0.9"/>
<rect x="630.51" y="325.9" width="2.1" height="15.2" fill="#858585"/>
<line x1="634.20" y1="319.2" x2="634.20" y2="330.1" stroke="#7a7a7a" stroke-width="0.9"/>
<rect x="633.15" y="321.7" width="2.1" height="6.7" fill="#858585"/>
<line x1="636.84" y1="313.3" x2="636.84" y2="325.9" stroke="#7a7a7a" stroke-width="0.9"/>
<rect x="635.79" y="318.3" width="2.1" height="5.1" fill="#858585"/>
<line x1="639.48" y1="312.4" x2="639.48" y2="327.6" stroke="#3c3c3c" stroke-width="0.9"/>
<rect x="638.43" y="318.3" width="2.1" height="8.4" fill="#141414"/>
<line x1="642.11" y1="323.4" x2="642.11" y2="347.0" stroke="#3c3c3c" stroke-width="0.9"/>
<rect x="641.06" y="325.1" width="2.1" height="21.1" fill="#141414"/>
<line x1="644.75" y1="331.0" x2="644.75" y2="347.8" stroke="#7a7a7a" stroke-width="0.9"/>
<rect x="643.70" y="332.6" width="2.1" height="13.5" fill="#858585"/>
<line x1="647.39" y1="338.5" x2="647.39" y2="352.9" stroke="#3c3c3c" stroke-width="0.9"/>
<rect x="646.34" y="340.2" width="2.1" height="11.0" fill="#141414"/>
<line x1="650.03" y1="348.6" x2="650.03" y2="373.1" stroke="#3c3c3c" stroke-width="0.9"/>
<rect x="648.98" y="350.3" width="2.1" height="19.4" fill="#141414"/>
<line x1="652.67" y1="356.2" x2="652.67" y2="376.4" stroke="#7a7a7a" stroke-width="0.9"/>
<rect x="651.62" y="363.0" width="2.1" height="10.1" fill="#858585"/>
<line x1="655.31" y1="356.2" x2="655.31" y2="379.0" stroke="#3c3c3c" stroke-width="0.9"/>
<rect x="654.26" y="368.9" width="2.1" height="5.1" fill="#141414"/>
<line x1="657.95" y1="365.5" x2="657.95" y2="379.0" stroke="#7a7a7a" stroke-width="0.9"/>
<rect x="656.90" y="369.7" width="2.1" height="6.7" fill="#858585"/>
<line x1="660.59" y1="357.1" x2="660.59" y2="373.9" stroke="#7a7a7a" stroke-width="0.9"/>
<rect x="659.54" y="362.1" width="2.1" height="10.1" fill="#858585"/>
<line x1="663.23" y1="357.9" x2="663.23" y2="368.9" stroke="#7a7a7a" stroke-width="0.9"/>
<rect x="662.18" y="359.6" width="2.1" height="7.6" fill="#858585"/>
<line x1="665.87" y1="350.3" x2="665.87" y2="362.1" stroke="#7a7a7a" stroke-width="0.9"/>
<rect x="664.82" y="359.6" width="2.1" height="1.7" fill="#858585"/>
<line x1="668.51" y1="332.6" x2="668.51" y2="362.1" stroke="#7a7a7a" stroke-width="0.9"/>
<rect x="667.46" y="334.3" width="2.1" height="27.0" fill="#858585"/>
<line x1="671.15" y1="331.8" x2="671.15" y2="343.6" stroke="#3c3c3c" stroke-width="0.9"/>
<rect x="670.10" y="335.2" width="2.1" height="2.5" fill="#141414"/>
<line x1="673.79" y1="326.7" x2="673.79" y2="338.5" stroke="#7a7a7a" stroke-width="0.9"/>
<rect x="672.74" y="327.6" width="2.1" height="10.1" fill="#858585"/>
<line x1="676.43" y1="326.7" x2="676.43" y2="336.8" stroke="#7a7a7a" stroke-width="0.9"/>
<rect x="675.38" y="329.3" width="2.1" height="3.4" fill="#858585"/>
<line x1="679.07" y1="298.5" x2="679.07" y2="331.0" stroke="#7a7a7a" stroke-width="0.9"/>
<rect x="678.02" y="300.0" width="2.1" height="30.0" fill="#858585"/>
<line x1="681.70" y1="299.9" x2="681.70" y2="310.0" stroke="#3c3c3c" stroke-width="0.9"/>
<rect x="680.65" y="301.5" width="2.1" height="5.9" fill="#141414"/>
<line x1="684.34" y1="301.5" x2="684.34" y2="315.0" stroke="#3c3c3c" stroke-width="0.9"/>
<rect x="683.29" y="303.2" width="2.1" height="9.3" fill="#141414"/>
<line x1="686.98" y1="304.1" x2="686.98" y2="316.7" stroke="#3c3c3c" stroke-width="0.9"/>
<rect x="685.93" y="305.8" width="2.1" height="9.3" fill="#141414"/>
<line x1="689.62" y1="298.2" x2="689.62" y2="315.0" stroke="#7a7a7a" stroke-width="0.9"/>
<rect x="688.57" y="299.9" width="2.1" height="14.3" fill="#858585"/>
<line x1="692.26" y1="291.4" x2="692.26" y2="302.4" stroke="#3c3c3c" stroke-width="0.9"/>
<rect x="691.21" y="292.3" width="2.1" height="9.3" fill="#141414"/>
<line x1="694.90" y1="292.3" x2="694.90" y2="302.4" stroke="#3c3c3c" stroke-width="0.9"/>
<rect x="693.85" y="294.0" width="2.1" height="5.9" fill="#141414"/>
<line x1="697.54" y1="288.9" x2="697.54" y2="304.9" stroke="#3c3c3c" stroke-width="0.9"/>
<rect x="696.49" y="294.8" width="2.1" height="7.6" fill="#141414"/>
<line x1="700.18" y1="286.4" x2="700.18" y2="298.2" stroke="#7a7a7a" stroke-width="0.9"/>
<rect x="699.13" y="288.9" width="2.1" height="6.7" fill="#858585"/>
<line x1="702.82" y1="282.2" x2="702.82" y2="296.5" stroke="#3c3c3c" stroke-width="0.9"/>
<rect x="701.77" y="284.7" width="2.1" height="8.4" fill="#141414"/>
<line x1="705.46" y1="283.0" x2="705.46" y2="294.8" stroke="#3c3c3c" stroke-width="0.9"/>
<rect x="704.41" y="285.5" width="2.1" height="8.4" fill="#141414"/>
<line x1="708.10" y1="291.4" x2="708.10" y2="299.0" stroke="#3c3c3c" stroke-width="0.9"/>
<rect x="707.05" y="293.1" width="2.1" height="2.5" fill="#141414"/>
<line x1="710.74" y1="280.5" x2="710.74" y2="298.2" stroke="#7a7a7a" stroke-width="0.9"/>
<rect x="709.69" y="282.2" width="2.1" height="12.6" fill="#858585"/>
<line x1="713.38" y1="263.6" x2="713.38" y2="284.7" stroke="#7a7a7a" stroke-width="0.9"/>
<rect x="712.33" y="274.6" width="2.1" height="8.4" fill="#858585"/>
<line x1="716.02" y1="256.9" x2="716.02" y2="282.2" stroke="#7a7a7a" stroke-width="0.9"/>
<rect x="714.97" y="262.8" width="2.1" height="17.7" fill="#858585"/>
<line x1="718.66" y1="258.6" x2="718.66" y2="272.9" stroke="#7a7a7a" stroke-width="0.9"/>
<rect x="717.61" y="260.3" width="2.1" height="10.1" fill="#858585"/>
<line x1="721.30" y1="252.7" x2="721.30" y2="275.4" stroke="#3c3c3c" stroke-width="0.9"/>
<rect x="720.25" y="260.3" width="2.1" height="11.0" fill="#141414"/>
<line x1="723.93" y1="259.4" x2="723.93" y2="283.9" stroke="#3c3c3c" stroke-width="0.9"/>
<rect x="722.88" y="260.3" width="2.1" height="2.5" fill="#141414"/>
<line x1="726.57" y1="261.1" x2="726.57" y2="270.4" stroke="#3c3c3c" stroke-width="0.9"/>
<rect x="725.52" y="262.8" width="2.1" height="2.5" fill="#141414"/>
<line x1="729.21" y1="264.5" x2="729.21" y2="275.4" stroke="#3c3c3c" stroke-width="0.9"/>
<rect x="728.16" y="269.5" width="2.1" height="4.2" fill="#141414"/>
<line x1="731.85" y1="268.7" x2="731.85" y2="277.1" stroke="#3c3c3c" stroke-width="0.9"/>
<rect x="730.80" y="270.4" width="2.1" height="2.5" fill="#141414"/>
<line x1="734.49" y1="256.9" x2="734.49" y2="272.9" stroke="#7a7a7a" stroke-width="0.9"/>
<rect x="733.44" y="258.6" width="2.1" height="12.6" fill="#858585"/>
<line x1="737.13" y1="256.1" x2="737.13" y2="263.6" stroke="#7a7a7a" stroke-width="0.9"/>
<rect x="736.08" y="257.7" width="2.1" height="4.2" fill="#858585"/>
<line x1="739.77" y1="251.8" x2="739.77" y2="262.8" stroke="#7a7a7a" stroke-width="0.9"/>
<rect x="738.72" y="254.4" width="2.1" height="6.7" fill="#858585"/>
<line x1="742.41" y1="242.6" x2="742.41" y2="263.6" stroke="#7a7a7a" stroke-width="0.9"/>
<rect x="741.36" y="245.1" width="2.1" height="16.8" fill="#858585"/>
<line x1="745.05" y1="241.7" x2="745.05" y2="257.7" stroke="#7a7a7a" stroke-width="0.9"/>
<rect x="744.00" y="243.4" width="2.1" height="4.2" fill="#858585"/>
<line x1="747.69" y1="233.3" x2="747.69" y2="248.5" stroke="#7a7a7a" stroke-width="0.9"/>
<rect x="746.64" y="235.0" width="2.1" height="7.6" fill="#858585"/>
<line x1="750.33" y1="193.6" x2="750.33" y2="234.1" stroke="#7a7a7a" stroke-width="0.9"/>
<rect x="749.28" y="208.8" width="2.1" height="23.6" fill="#858585"/>
<line x1="752.97" y1="205.4" x2="752.97" y2="232.4" stroke="#7a7a7a" stroke-width="0.9"/>
<rect x="751.92" y="208.0" width="2.1" height="22.7" fill="#858585"/>
<line x1="755.61" y1="212.2" x2="755.61" y2="231.5" stroke="#3c3c3c" stroke-width="0.9"/>
<rect x="754.56" y="213.9" width="2.1" height="16.8" fill="#141414"/>
<line x1="758.25" y1="183.5" x2="758.25" y2="215.5" stroke="#7a7a7a" stroke-width="0.9"/>
<rect x="757.20" y="194.5" width="2.1" height="19.4" fill="#858585"/>
<line x1="760.89" y1="178.5" x2="760.89" y2="200.4" stroke="#7a7a7a" stroke-width="0.9"/>
<rect x="759.84" y="193.6" width="2.1" height="5.1" fill="#858585"/>
<line x1="763.52" y1="193.6" x2="763.52" y2="220.6" stroke="#3c3c3c" stroke-width="0.9"/>
<rect x="762.47" y="195.3" width="2.1" height="20.2" fill="#141414"/>
<line x1="766.16" y1="213.0" x2="766.16" y2="223.1" stroke="#3c3c3c" stroke-width="0.9"/>
<rect x="765.11" y="213.9" width="2.1" height="1.7" fill="#141414"/>
<line x1="768.80" y1="213.9" x2="768.80" y2="224.0" stroke="#3c3c3c" stroke-width="0.9"/>
<rect x="767.75" y="221.4" width="2.1" height="1.7" fill="#141414"/>
<line x1="771.44" y1="197.0" x2="771.44" y2="224.8" stroke="#7a7a7a" stroke-width="0.9"/>
<rect x="770.39" y="197.9" width="2.1" height="26.1" fill="#858585"/>
<line x1="774.08" y1="186.9" x2="774.08" y2="201.2" stroke="#3c3c3c" stroke-width="0.9"/>
<rect x="773.03" y="196.2" width="2.1" height="2.5" fill="#141414"/>
<line x1="776.72" y1="170.9" x2="776.72" y2="202.9" stroke="#3c3c3c" stroke-width="0.9"/>
<rect x="775.67" y="196.2" width="2.1" height="5.1" fill="#141414"/>
<line x1="779.36" y1="186.9" x2="779.36" y2="210.5" stroke="#7a7a7a" stroke-width="0.9"/>
<rect x="778.31" y="187.7" width="2.1" height="21.9" fill="#858585"/>
<line x1="782.00" y1="176.8" x2="782.00" y2="209.6" stroke="#6a6a6a" stroke-width="0.9"/>
<rect x="780.95" y="178.5" width="2.1" height="29.5" fill="#636363"/>
<rect x="1" y="114.2" width="993" height="2.0" fill="#f40a0a"/>
<rect x="1" y="170.4" width="993" height="2.0" fill="#f40a0a"/>
<rect x="1" y="206.8" width="993" height="2.0" fill="#f40a0a"/>
<line x1="740.4" y1="245" x2="776.1" y2="171.4" stroke="#333" stroke-width="0.7"/>
<line x1="782.1" y1="172" x2="790.2" y2="123" stroke="#ee1111" stroke-width="0.85"/>
<path d="M790.9 117.2 L793.1 124.9 L787.1 123.5 Z" fill="#ee1111"/>
<rect x="939.4" y="167.2" width="39.4" height="8.4" rx="2.5" ry="2.5" fill="#ffffff" stroke="#d97070" stroke-width="0.8"/>
<text x="959.1" y="173.5" font-size="5.6" fill="#000" text-anchor="middle" font-family="Liberation Sans, sans-serif">0.0%(0.98473)</text>
<rect x="936.3" y="191.4" width="42.5" height="8.4" rx="2.5" ry="2.5" fill="#ffffff" stroke="#d97070" stroke-width="0.8"/>
<text x="957.5" y="197.7" font-size="5.6" fill="#000" text-anchor="middle" font-family="Liberation Sans, sans-serif">23.6%(0.97828)</text>
<rect x="936.3" y="206.4" width="42.5" height="8.4" rx="2.5" ry="2.5" fill="#ffffff" stroke="#d97070" stroke-width="0.8"/>
<text x="957.5" y="212.7" font-size="5.6" fill="#000" text-anchor="middle" font-family="Liberation Sans, sans-serif">38.2%(0.97429)</text>
<rect x="936.3" y="218.6" width="42.5" height="8.4" rx="2.5" ry="2.5" fill="#ffffff" stroke="#d97070" stroke-width="0.8"/>
<text x="957.5" y="224.9" font-size="5.6" fill="#000" text-anchor="middle" font-family="Liberation Sans, sans-serif">50.0%(0.97106)</text>
<rect x="936.3" y="230.8" width="42.5" height="8.4" rx="2.5" ry="2.5" fill="#ffffff" stroke="#d97070" stroke-width="0.8"/>
<text x="957.5" y="237.1" font-size="5.6" fill="#000" text-anchor="middle" font-family="Liberation Sans, sans-serif">61.8%(0.96784)</text>
<rect x="936.3" y="248.2" width="42.5" height="8.4" rx="2.5" ry="2.5" fill="#ffffff" stroke="#d97070" stroke-width="0.8"/>
<text x="957.5" y="254.5" font-size="5.6" fill="#000" text-anchor="middle" font-family="Liberation Sans, sans-serif">78.6%(0.96325)</text>
<rect x="933.2" y="271.2" width="45.6" height="8.4" rx="2.5" ry="2.5" fill="#ffffff" stroke="#d97070" stroke-width="0.8"/>
<text x="956.0" y="277.5" font-size="5.6" fill="#000" text-anchor="middle" font-family="Liberation Sans, sans-serif">100.0%(0.95740)</text>
<path d="M140.5 203.8 l-2.6 -3.4 h1.8 v-3 h1.6 v3 h1.8 z" fill="#8e1c1c"/>
<path d="M269.0 221.8 l-2.6 -3.4 h1.8 v-3 h1.6 v3 h1.8 z" fill="#8e1c1c"/>
<path d="M212.3 202.5 l-2.6 3.4 h1.8 v3 h1.6 v-3 h1.8 z" fill="#168a16"/>
<path d="M123.7 207.7 l-2.2 -2.6 h4.4 z" fill="#444"/>
<path d="M268.8 222.8 l-2.6 -3.4 h1.8 v-3 h1.6 v3 h1.8 z" fill="#8e1c1c"/>
<path d="M295.3 282.1 l-2.6 -3.4 h1.8 v-3 h1.6 v3 h1.8 z" fill="#8e1c1c"/>
<path d="M407.4 259.2 l-2.6 3.4 h1.8 v3 h1.6 v-3 h1.8 z" fill="#168a16"/>
<path d="M450.2 294.8 l-2.6 -3.4 h1.8 v-3 h1.6 v3 h1.8 z" fill="#8e1c1c"/>
<path d="M457.5 312.6 l-2.6 -3.4 h1.8 v-3 h1.6 v3 h1.8 z" fill="#8e1c1c"/>
<path d="M538.6 265.8 l-2.6 -3.4 h1.8 v-3 h1.6 v3 h1.8 z" fill="#8e1c1c"/>
<path d="M589.3 355.5 l-2.6 -3.4 h1.8 v-3 h1.6 v3 h1.8 z" fill="#8e1c1c"/>
<path d="M677.4 305.1 l-2.6 3.4 h1.8 v3 h1.6 v-3 h1.8 z" fill="#168a16"/>
<path d="M17.5 110.2 l-2.6 3.4 h1.8 v3 h1.6 v-3 h1.8 z" fill="#168a16"/>
<path d="M36.5 186.8 l-2.6 -3.4 h1.8 v-3 h1.6 v3 h1.8 z" fill="#8e1c1c"/>
<path d="M754.7 211.9 l-2.6 3.4 h1.8 v3 h1.6 v-3 h1.8 z" fill="#168a16"/>
<path d="M746.8 236.2 l-2.6 3.4 h1.8 v3 h1.6 v-3 h1.8 z" fill="#168a16"/>
<circle cx="19.9" cy="79.4" r="5.3" fill="#ffffff" fill-opacity="0.8" stroke="#3a3a3a" stroke-width="0.9"/>
<text x="19.9" y="81.7" font-size="8.2" font-weight="bold" fill="#222" text-anchor="middle" font-family="Liberation Serif, serif">iv</text>
<text x="19.9" y="94.1" font-size="8.9" font-weight="bold" fill="#111" text-anchor="middle" font-family="Liberation Serif, serif">(c)</text>
<text x="60.1" y="111.5" font-size="10.5" fill="#111" text-anchor="middle" font-family="Liberation Sans, sans-serif">2</text>
<circle cx="76.0" cy="111.4" r="4.7" fill="#ffffff" fill-opacity="0.7" stroke="#888" stroke-width="0.5"/>
<text x="76.0" y="114.0" font-size="8.9" font-weight="bold" fill="#111" text-anchor="middle" font-family="Liberation Serif, serif">(ii)</text>
<text x="81.2" y="121.9" font-size="8.9" font-weight="bold" fill="#111" text-anchor="middle" font-family="Liberation Serif, serif">ii</text>
<text x="1.2" y="180.6" font-size="8.9" font-weight="bold" fill="#111" text-anchor="middle" font-family="Liberation Serif, serif">(b)</text>
<text x="78.3" y="158.8" font-size="8.9" font-weight="bold" fill="#111" text-anchor="middle" font-family="Liberation Serif, serif">i</text>
<text x="62.5" y="179.9" font-size="8.9" font-weight="bold" fill="#111" text-anchor="middle" font-family="Liberation Serif, serif">(i)</text>
<circle cx="43.8" cy="231.0" r="5.3" fill="#ffffff" fill-opacity="0.8" stroke="#3a3a3a" stroke-width="0.9"/>
<text x="43.8" y="233.3" font-size="8.2" font-weight="bold" fill="#222" text-anchor="middle" font-family="Liberation Serif, serif">v</text>
<text x="43.8" y="247.4" font-size="10.5" fill="#111" text-anchor="middle" font-family="Liberation Sans, sans-serif">1</text>
<text x="100.7" y="197.6" font-size="8.9" font-weight="bold" fill="#111" text-anchor="middle" font-family="Liberation Serif, serif">iii</text>
<text x="110.8" y="168.4" font-size="8.9" font-weight="bold" fill="#111" text-anchor="middle" font-family="Liberation Serif, serif">iv</text>
<circle cx="123.8" cy="219.0" r="4.7" fill="#ffffff" fill-opacity="0.7" stroke="#888" stroke-width="0.5"/>
<text x="123.8" y="221.6" font-size="8.9" font-weight="bold" fill="#111" text-anchor="middle" font-family="Liberation Serif, serif">(iii)</text>
<text x="142.8" y="167.8" font-size="8.9" font-weight="bold" fill="#111" text-anchor="middle" font-family="Liberation Serif, serif">ii</text>
<text x="140.2" y="219.8" font-size="8.9" font-weight="bold" fill="#111" text-anchor="middle" font-family="Liberation Serif, serif">i</text>
<circle cx="126.6" cy="153.3" r="4.7" fill="#ffffff" fill-opacity="0.7" stroke="#888" stroke-width="0.5"/>
<text x="126.6" y="155.9" font-size="8.9" font-weight="bold" fill="#111" text-anchor="middle" font-family="Liberation Serif, serif">(iv)</text>
<text x="178.0" y="205.2" font-size="8.9" font-weight="bold" fill="#111" text-anchor="middle" font-family="Liberation Serif, serif">iv</text>
<text x="171.4" y="245.2" font-size="8.9" font-weight="bold" fill="#111" text-anchor="middle" font-family="Liberation Serif, serif">iii</text>
<text x="187.6" y="247.1" font-size="8.9" font-weight="bold" fill="#111" text-anchor="middle" font-family="Liberation Serif, serif">v</text>
<circle cx="188.2" cy="256.0" r="4.7" fill="#ffffff" fill-opacity="0.7" stroke="#888" stroke-width="0.5"/>
<text x="188.2" y="258.6" font-size="8.9" font-weight="bold" fill="#111" text-anchor="middle" font-family="Liberation Serif, serif">(v)</text>
<circle cx="188.2" cy="267.5" r="5.3" fill="#ffffff" fill-opacity="0.8" stroke="#3a3a3a" stroke-width="0.9"/>
<text x="188.2" y="269.8" font-size="8.2" font-weight="bold" fill="#222" text-anchor="middle" font-family="Liberation Serif, serif">i</text>
<text x="193.7" y="200.6" font-size="8.9" font-weight="bold" fill="#111" text-anchor="middle" font-family="Liberation Serif, serif">(a)</text>
<text x="207.4" y="200.6" font-size="8.9" font-weight="bold" fill="#111" text-anchor="middle" font-family="Liberation Serif, serif">b</text>
<text x="201.3" y="241.3" font-size="8.9" font-weight="bold" fill="#111" text-anchor="middle" font-family="Liberation Serif, serif">a</text>
<text x="209.0" y="243.6" font-size="8.9" font-weight="bold" fill="#111" text-anchor="middle" font-family="Liberation Serif, serif">c</text>
<text x="209.6" y="253.9" font-size="8.9" font-weight="bold" fill="#111" text-anchor="middle" font-family="Liberation Serif, serif">(b)</text>
<circle cx="233.4" cy="156.0" r="5.3" fill="#ffffff" fill-opacity="0.8" stroke="#3a3a3a" stroke-width="0.9"/>
<text x="233.4" y="158.3" font-size="8.2" font-weight="bold" fill="#222" text-anchor="middle" font-family="Liberation Serif, serif">ii</text>
<text x="233.4" y="170.9" font-size="8.9" font-weight="bold" fill="#111" text-anchor="middle" font-family="Liberation Serif, serif">(c)</text>
<circle cx="252.0" cy="182.0" r="4.7" fill="#ffffff" fill-opacity="0.7" stroke="#888" stroke-width="0.5"/>
<text x="252.0" y="184.6" font-size="8.9" font-weight="bold" fill="#111" text-anchor="middle" font-family="Liberation Serif, serif">(ii)</text>
<text x="239.7" y="227.6" font-size="8.9" font-weight="bold" fill="#111" text-anchor="middle" font-family="Liberation Serif, serif">(i)</text>
<circle cx="277.4" cy="227.2" r="4.7" fill="#ffffff" fill-opacity="0.7" stroke="#888" stroke-width="0.5"/>
<text x="277.4" y="229.8" font-size="8.9" font-weight="bold" fill="#111" text-anchor="middle" font-family="Liberation Serif, serif">(iv)</text>
<circle cx="273.3" cy="268.9" r="4.7" fill="#ffffff" fill-opacity="0.7" stroke="#888" stroke-width="0.5"/>
<text x="273.3" y="271.5" font-size="8.9" font-weight="bold" fill="#111" text-anchor="middle" font-family="Liberation Serif, serif">(iii)</text>
<circle cx="301.0" cy="303.0" r="4.7" fill="#ffffff" fill-opacity="0.7" stroke="#888" stroke-width="0.5"/>
<text x="301.0" y="305.6" font-size="8.9" font-weight="bold" fill="#111" text-anchor="middle" font-family="Liberation Serif, serif">(v)</text>
<circle cx="300.4" cy="315.3" r="5.3" fill="#ffffff" fill-opacity="0.8" stroke="#3a3a3a" stroke-width="0.9"/>
<text x="300.4" y="317.6" font-size="8.2" font-weight="bold" fill="#222" text-anchor="middle" font-family="Liberation Serif, serif">iii</text>
<circle cx="311.4" cy="240.5" r="5.3" fill="#ffffff" fill-opacity="0.8" stroke="#3a3a3a" stroke-width="0.9"/>
<text x="311.4" y="242.8" font-size="8.2" font-weight="bold" fill="#222" text-anchor="middle" font-family="Liberation Serif, serif">iv</text>
<text x="314.3" y="288.8" font-size="8.9" font-weight="bold" fill="#111" text-anchor="middle" font-family="Liberation Serif, serif">(i)</text>
<text x="319.0" y="251.9" font-size="8.9" font-weight="bold" fill="#111" text-anchor="middle" font-family="Liberation Serif, serif">a</text>
<text x="324.7" y="280.3" font-size="8.9" font-weight="bold" fill="#111" text-anchor="middle" font-family="Liberation Serif, serif">b</text>
<circle cx="330.0" cy="230.0" r="5.3" fill="#ffffff" fill-opacity="0.8" stroke="#3a3a3a" stroke-width="0.9"/>
<text x="330.0" y="232.3" font-size="8.2" font-weight="bold" fill="#222" text-anchor="middle" font-family="Liberation Serif, serif">ii</text>
<text x="329.4" y="243.6" font-size="8.9" font-weight="bold" fill="#111" text-anchor="middle" font-family="Liberation Serif, serif">c</text>
<circle cx="345.8" cy="260.0" r="4.7" fill="#ffffff" fill-opacity="0.7" stroke="#888" stroke-width="0.5"/>
<text x="345.8" y="262.6" font-size="8.9" font-weight="bold" fill="#111" text-anchor="middle" font-family="Liberation Serif, serif">(iv)</text>
<circle cx="342.7" cy="302.0" r="4.7" fill="#ffffff" fill-opacity="0.7" stroke="#888" stroke-width="0.5"/>
<text x="342.7" y="304.6" font-size="8.9" font-weight="bold" fill="#111" text-anchor="middle" font-family="Liberation Serif, serif">(iii)</text>
<circle cx="350.6" cy="304.2" r="4.7" fill="#ffffff" fill-opacity="0.7" stroke="#888" stroke-width="0.5"/>
<text x="350.6" y="306.8" font-size="8.9" font-weight="bold" fill="#111" text-anchor="middle" font-family="Liberation Serif, serif">(v)</text>
<circle cx="351.5" cy="316.2" r="5.3" fill="#ffffff" fill-opacity="0.8" stroke="#3a3a3a" stroke-width="0.9"/>
<text x="351.5" y="318.5" font-size="8.2" font-weight="bold" fill="#222" text-anchor="middle" font-family="Liberation Serif, serif">v</text>
<text x="351.5" y="331.8" font-size="10.5" fill="#111" text-anchor="middle" font-family="Liberation Sans, sans-serif">3</text>
<text x="356.9" y="274.6" font-size="8.9" font-weight="bold" fill="#111" text-anchor="middle" font-family="Liberation Serif, serif">(a)</text>
<text x="360.0" y="299.9" font-size="8.9" font-weight="bold" fill="#111" text-anchor="middle" font-family="Liberation Serif, serif">(b)</text>
<circle cx="367.3" cy="246.8" r="5.3" fill="#ffffff" fill-opacity="0.8" stroke="#3a3a3a" stroke-width="0.9"/>
<text x="367.3" y="249.1" font-size="8.2" font-weight="bold" fill="#222" text-anchor="middle" font-family="Liberation Serif, serif">a</text>
<text x="367.3" y="261.4" font-size="8.9" font-weight="bold" fill="#111" text-anchor="middle" font-family="Liberation Serif, serif">(c)</text>
<text x="377.7" y="272.1" font-size="8.9" font-weight="bold" fill="#111" text-anchor="middle" font-family="Liberation Serif, serif">(i)</text>
<circle cx="376.0" cy="301.0" r="5.3" fill="#ffffff" fill-opacity="0.8" stroke="#3a3a3a" stroke-width="0.9"/>
<text x="376.0" y="303.3" font-size="8.2" font-weight="bold" fill="#222" text-anchor="middle" font-family="Liberation Serif, serif">b</text>
<circle cx="388.7" cy="293.5" r="4.7" fill="#ffffff" fill-opacity="0.7" stroke="#888" stroke-width="0.5"/>
<text x="388.7" y="296.1" font-size="8.9" font-weight="bold" fill="#111" text-anchor="middle" font-family="Liberation Serif, serif">(ii)</text>
<circle cx="394.0" cy="261.6" r="4.7" fill="#ffffff" fill-opacity="0.7" stroke="#888" stroke-width="0.5"/>
<text x="394.0" y="264.2" font-size="8.9" font-weight="bold" fill="#111" text-anchor="middle" font-family="Liberation Serif, serif">(iii)</text>
<circle cx="407.7" cy="286.2" r="4.7" fill="#ffffff" fill-opacity="0.7" stroke="#888" stroke-width="0.5"/>
<text x="407.7" y="288.8" font-size="8.9" font-weight="bold" fill="#111" text-anchor="middle" font-family="Liberation Serif, serif">(iv)</text>
<text x="417.8" y="203.8" font-size="10.5" fill="#111" text-anchor="middle" font-family="Liberation Sans, sans-serif">4</text>
<circle cx="417.8" cy="212.7" r="5.3" fill="#ffffff" fill-opacity="0.8" stroke="#3a3a3a" stroke-width="0.9"/>
<text x="417.8" y="215.0" font-size="8.2" font-weight="bold" fill="#222" text-anchor="middle" font-family="Liberation Serif, serif">c</text>
<circle cx="417.8" cy="224.7" r="4.7" fill="#ffffff" fill-opacity="0.7" stroke="#888" stroke-width="0.5"/>
<text x="417.8" y="227.3" font-size="8.9" font-weight="bold" fill="#111" text-anchor="middle" font-family="Liberation Serif, serif">(v)</text>
<text x="441.4" y="258.5" font-size="8.9" font-weight="bold" fill="#111" text-anchor="middle" font-family="Liberation Serif, serif">(b)</text>
<text x="439.2" y="290.0" font-size="8.9" font-weight="bold" fill="#111" text-anchor="middle" font-family="Liberation Serif, serif">(a)</text>
<text x="463.2" y="345.3" font-size="8.9" font-weight="bold" fill="#111" text-anchor="middle" font-family="Liberation Serif, serif">(c)</text>
<circle cx="463.5" cy="353.3" r="5.3" fill="#ffffff" fill-opacity="0.8" stroke="#3a3a3a" stroke-width="0.9"/>
<text x="463.5" y="355.6" font-size="8.2" font-weight="bold" fill="#222" text-anchor="middle" font-family="Liberation Serif, serif">i</text>
<text x="468.5" y="295.6" font-size="8.9" font-weight="bold" fill="#111" text-anchor="middle" font-family="Liberation Serif, serif">i</text>
<text x="471.2" y="331.1" font-size="8.9" font-weight="bold" fill="#111" text-anchor="middle" font-family="Liberation Serif, serif">ii</text>
<text x="481.8" y="251.6" font-size="8.9" font-weight="bold" fill="#111" text-anchor="middle" font-family="Liberation Serif, serif">iii</text>
<text x="487.5" y="287.2" font-size="8.9" font-weight="bold" fill="#111" text-anchor="middle" font-family="Liberation Serif, serif">iv</text>
<text x="492.2" y="242.0" font-size="8.9" font-weight="bold" fill="#111" text-anchor="middle" font-family="Liberation Serif, serif">v</text>
<text x="492.2" y="231.0" font-size="8.9" font-weight="bold" fill="#111" text-anchor="middle" font-family="Liberation Serif, serif">(a)</text>
<text x="498.2" y="276.1" font-size="8.9" font-weight="bold" fill="#111" text-anchor="middle" font-family="Liberation Serif, serif">(b)</text>
<circle cx="522.2" cy="214.2" r="5.3" fill="#ffffff" fill-opacity="0.8" stroke="#3a3a3a" stroke-width="0.9"/>
<text x="522.2" y="216.5" font-size="8.2" font-weight="bold" fill="#222" text-anchor="middle" font-family="Liberation Serif, serif">ii</text>
<text x="522.2" y="231.0" font-size="8.9" font-weight="bold" fill="#111" text-anchor="middle" font-family="Liberation Serif, serif">(c)</text>
<text x="533.2" y="241.1" font-size="8.9" font-weight="bold" fill="#111" text-anchor="middle" font-family="Liberation Serif, serif">(b)</text>
<text x="527.0" y="268.9" font-size="8.9" font-weight="bold" fill="#111" text-anchor="middle" font-family="Liberation Serif, serif">(a)</text>
<circle cx="568.0" cy="281.3" r="5.3" fill="#ffffff" fill-opacity="0.8" stroke="#3a3a3a" stroke-width="0.9"/>
<text x="568.0" y="283.6" font-size="8.2" font-weight="bold" fill="#222" text-anchor="middle" font-family="Liberation Serif, serif">iv</text>
<text x="586.1" y="321.6" font-size="8.9" font-weight="bold" fill="#111" text-anchor="middle" font-family="Liberation Serif, serif">(b)</text>
<text x="554.0" y="349.6" font-size="8.9" font-weight="bold" fill="#111" text-anchor="middle" font-family="Liberation Serif, serif">(c)</text>
<circle cx="554.3" cy="359.0" r="5.3" fill="#ffffff" fill-opacity="0.8" stroke="#3a3a3a" stroke-width="0.9"/>
<text x="554.3" y="361.3" font-size="8.2" font-weight="bold" fill="#222" text-anchor="middle" font-family="Liberation Serif, serif">iii</text>
<text x="583.5" y="351.6" font-size="8.9" font-weight="bold" fill="#111" text-anchor="middle" font-family="Liberation Serif, serif">(a)</text>
<circle cx="600.0" cy="359.3" r="5.3" fill="#ffffff" fill-opacity="0.8" stroke="#3a3a3a" stroke-width="0.9"/>
<text x="600.0" y="361.6" font-size="8.2" font-weight="bold" fill="#222" text-anchor="middle" font-family="Liberation Serif, serif">i</text>
<circle cx="616.0" cy="346.7" r="5.3" fill="#ffffff" fill-opacity="0.8" stroke="#3a3a3a" stroke-width="0.9"/>
<text x="616.0" y="349.0" font-size="8.2" font-weight="bold" fill="#222" text-anchor="middle" font-family="Liberation Serif, serif">iii</text>
<circle cx="621.5" cy="379.5" r="5.3" fill="#ffffff" fill-opacity="0.8" stroke="#3a3a3a" stroke-width="0.9"/>
<text x="621.5" y="381.8" font-size="8.2" font-weight="bold" fill="#222" text-anchor="middle" font-family="Liberation Serif, serif">iv</text>
<circle cx="610.5" cy="394.6" r="5.3" fill="#ffffff" fill-opacity="0.8" stroke="#3a3a3a" stroke-width="0.9"/>
<text x="610.5" y="396.9" font-size="8.2" font-weight="bold" fill="#222" text-anchor="middle" font-family="Liberation Serif, serif">ii</text>
<text x="594.3" y="407.7" font-size="8.9" font-weight="bold" fill="#111" text-anchor="middle" font-family="Liberation Serif, serif">(c)</text>
<circle cx="594.3" cy="415.9" r="5.3" fill="#ffffff" fill-opacity="0.8" stroke="#3a3a3a" stroke-width="0.9"/>
<text x="594.3" y="418.2" font-size="8.2" font-weight="bold" fill="#222" text-anchor="middle" font-family="Liberation Serif, serif"></text>
<text x="634.8" y="300.6" font-size="10.5" fill="#111" text-anchor="middle" font-family="Liberation Sans, sans-serif">A</text>
<circle cx="634.8" cy="308.8" r="5.3" fill="#ffffff" fill-opacity="0.8" stroke="#3a3a3a" stroke-width="0.9"/>
<text x="634.8" y="311.1" font-size="8.2" font-weight="bold" fill="#222" text-anchor="middle" font-family="Liberation Serif, serif">v</text>
<text x="653.7" y="388.3" font-size="10.5" fill="#111" text-anchor="middle" font-family="Liberation Sans, sans-serif">B</text>
<circle cx="720.2" cy="247.4" r="5.3" fill="#ffffff" fill-opacity="0.8" stroke="#3a3a3a" stroke-width="0.9"/>
<text x="720.2" y="249.7" font-size="8.2" font-weight="bold" fill="#222" text-anchor="middle" font-family="Liberation Serif, serif">i</text>
<circle cx="722.2" cy="286.8" r="5.3" fill="#ffffff" fill-opacity="0.8" stroke="#3a3a3a" stroke-width="0.9"/>
<text x="722.2" y="289.1" font-size="8.2" font-weight="bold" fill="#222" text-anchor="middle" font-family="Liberation Serif, serif">ii</text>
<circle cx="760.0" cy="176.4" r="5.3" fill="#ffffff" fill-opacity="0.8" stroke="#3a3a3a" stroke-width="0.9"/>
<text x="760.0" y="178.7" font-size="8.2" font-weight="bold" fill="#222" text-anchor="middle" font-family="Liberation Serif, serif">iii</text>
<circle cx="765.0" cy="231.0" r="5.3" fill="#ffffff" fill-opacity="0.8" stroke="#3a3a3a" stroke-width="0.9"/>
<text x="765.0" y="233.3" font-size="8.2" font-weight="bold" fill="#222" text-anchor="middle" font-family="Liberation Serif, serif">iv</text>
<text x="827.0" y="121.2" font-size="10.5" fill="#111" text-anchor="middle" font-family="Liberation Sans, sans-serif">(2)</text>
<text x="827.0" y="133.8" font-size="10.5" fill="#111" text-anchor="middle" font-family="Liberation Sans, sans-serif">C</text>
<circle cx="827.0" cy="141.7" r="5.3" fill="#ffffff" fill-opacity="0.8" stroke="#3a3a3a" stroke-width="0.9"/>
<text x="827.0" y="144.0" font-size="8.2" font-weight="bold" fill="#222" text-anchor="middle" font-family="Liberation Serif, serif">v</text>
<rect x="927.3" y="1" width="64" height="63.6" fill="#f2282e"/>
<text x="959.6" y="34.5" font-size="19" fill="#fff" stroke="#fff" stroke-width="0.35" text-anchor="middle" font-family="Liberation Serif, serif" textLength="45.2" lengthAdjust="spacingAndGlyphs">FxPro</text>
<text x="959.4" y="42.6" font-size="6.2" fill="#fff" text-anchor="middle" font-family="Liberation Sans, sans-serif" textLength="44.5" lengthAdjust="spacingAndGlyphs">Trade Like a Pro</text>
<text x="3.6" y="9.2" font-size="7" font-weight="bold" fill="#222" font-family="Liberation Sans, sans-serif" textLength="52.5" lengthAdjust="spacingAndGlyphs">EURCHF - 1 day</text>
<text x="36.8" y="18" font-size="5.8" fill="#ee2222" font-family="Liberation Sans, sans-serif" textLength="45.4" lengthAdjust="spacingAndGlyphs">BB(20,20,2.0,2.0)</text>
<rect x="997" y="1" width="26.5" height="474" fill="#ffffff"/>
<line x1="993.5" y1="1" x2="993.5" y2="414" stroke="#d6d6ce" stroke-width="1"/>
<line x1="993.5" y1="427" x2="993.5" y2="474" stroke="#c9c9c0" stroke-width="1"/>
<line x1="996.5" y1="0" x2="996.5" y2="417.4" stroke="#333" stroke-width="1"/>
<line x1="996.5" y1="426" x2="996.5" y2="474" stroke="#333" stroke-width="1"/>
<line x1="994.3" y1="411.24" x2="996.5" y2="411.24" stroke="#333" stroke-width="0.9"/>
<line x1="994.3" y1="407.41" x2="996.5" y2="407.41" stroke="#333" stroke-width="0.9"/>
<line x1="994.3" y1="403.58" x2="996.5" y2="403.58" stroke="#333" stroke-width="0.9"/>
<line x1="994.3" y1="399.75" x2="996.5" y2="399.75" stroke="#333" stroke-width="0.9"/>
<line x1="994.3" y1="395.92" x2="996.5" y2="395.92" stroke="#333" stroke-width="0.9"/>
<line x1="994.3" y1="392.09" x2="996.5" y2="392.09" stroke="#333" stroke-width="0.9"/>
<line x1="994.3" y1="388.26" x2="996.5" y2="388.26" stroke="#333" stroke-width="0.9"/>
<line x1="994.3" y1="384.43" x2="996.5" y2="384.43" stroke="#333" stroke-width="0.9"/>
<line x1="993.2" y1="380.60" x2="997.6" y2="380.60" stroke="#333" stroke-width="0.9"/>
<text x="998.3" y="383.10" font-size="7" fill="#333" font-family="Liberation Sans, sans-serif" textLength="23.4" lengthAdjust="spacingAndGlyphs">0.93000</text>
<line x1="994.3" y1="376.77" x2="996.5" y2="376.77" stroke="#333" stroke-width="0.9"/>
<line x1="994.3" y1="372.94" x2="996.5" y2="372.94" stroke="#333" stroke-width="0.9"/>
<line x1="994.3" y1="369.11" x2="996.5" y2="369.11" stroke="#333" stroke-width="0.9"/>
<line x1="994.3" y1="365.28" x2="996.5" y2="365.28" stroke="#333" stroke-width="0.9"/>
<line x1="994.3" y1="361.45" x2="996.5" y2="361.45" stroke="#333" stroke-width="0.9"/>
<line x1="994.3" y1="357.62" x2="996.5" y2="357.62" stroke="#333" stroke-width="0.9"/>
<line x1="994.3" y1="353.79" x2="996.5" y2="353.79" stroke="#333" stroke-width="0.9"/>
<line x1="994.3" y1="349.96" x2="996.5" y2="349.96" stroke="#333" stroke-width="0.9"/>
<line x1="994.3" y1="346.13" x2="996.5" y2="346.13" stroke="#333" stroke-width="0.9"/>
<line x1="993.2" y1="342.30" x2="997.6" y2="342.30" stroke="#333" stroke-width="0.9"/>
<text x="998.3" y="344.80" font-size="7" fill="#333" font-family="Liberation Sans, sans-serif" textLength="23.4" lengthAdjust="spacingAndGlyphs">0.94000</text>
<line x1="994.3" y1="338.47" x2="996.5" y2="338.47" stroke="#333" stroke-width="0.9"/>
<line x1="994.3" y1="334.64" x2="996.5" y2="334.64" stroke="#333" stroke-width="0.9"/>
<line x1="994.3" y1="330.81" x2="996.5" y2="330.81" stroke="#333" stroke-width="0.9"/>
<line x1="994.3" y1="326.98" x2="996.5" y2="326.98" stroke="#333" stroke-width="0.9"/>
<line x1="994.3" y1="323.15" x2="996.5" y2="323.15" stroke="#333" stroke-width="0.9"/>
<line x1="994.3" y1="319.32" x2="996.5" y2="319.32" stroke="#333" stroke-width="0.9"/>
<line x1="994.3" y1="315.49" x2="996.5" y2="315.49" stroke="#333" stroke-width="0.9"/>
<line x1="994.3" y1="311.66" x2="996.5" y2="311.66" stroke="#333" stroke-width="0.9"/>
<line x1="994.3" y1="307.83" x2="996.5" y2="307.83" stroke="#333" stroke-width="0.9"/>
<line x1="993.2" y1="304.00" x2="997.6" y2="304.00" stroke="#333" stroke-width="0.9"/>
<text x="998.3" y="306.50" font-size="7" fill="#333" font-family="Liberation Sans, sans-serif" textLength="23.4" lengthAdjust="spacingAndGlyphs">0.95000</text>
<line x1="994.3" y1="300.17" x2="996.5" y2="300.17" stroke="#333" stroke-width="0.9"/>
<line x1="994.3" y1="296.34" x2="996.5" y2="296.34" stroke="#333" stroke-width="0.9"/>
<line x1="994.3" y1="292.51" x2="996.5" y2="292.51" stroke="#333" stroke-width="0.9"/>
<line x1="994.3" y1="288.68" x2="996.5" y2="288.68" stroke="#333" stroke-width="0.9"/>
<line x1="994.3" y1="284.85" x2="996.5" y2="284.85" stroke="#333" stroke-width="0.9"/>
<line x1="994.3" y1="281.02" x2="996.5" y2="281.02" stroke="#333" stroke-width="0.9"/>
<line x1="994.3" y1="277.19" x2="996.5" y2="277.19" stroke="#333" stroke-width="0.9"/>
<line x1="994.3" y1="273.36" x2="996.5" y2="273.36" stroke="#333" stroke-width="0.9"/>
<line x1="994.3" y1="269.53" x2="996.5" y2="269.53" stroke="#333" stroke-width="0.9"/>
<line x1="993.2" y1="265.70" x2="997.6" y2="265.70" stroke="#333" stroke-width="0.9"/>
<text x="998.3" y="268.20" font-size="7" fill="#333" font-family="Liberation Sans, sans-serif" textLength="23.4" lengthAdjust="spacingAndGlyphs">0.96000</text>
<line x1="994.3" y1="261.87" x2="996.5" y2="261.87" stroke="#333" stroke-width="0.9"/>
<line x1="994.3" y1="258.04" x2="996.5" y2="258.04" stroke="#333" stroke-width="0.9"/>
<line x1="994.3" y1="254.21" x2="996.5" y2="254.21" stroke="#333" stroke-width="0.9"/>
<line x1="994.3" y1="250.38" x2="996.5" y2="250.38" stroke="#333" stroke-width="0.9"/>
<line x1="994.3" y1="246.55" x2="996.5" y2="246.55" stroke="#333" stroke-width="0.9"/>
<line x1="994.3" y1="242.72" x2="996.5" y2="242.72" stroke="#333" stroke-width="0.9"/>
<line x1="994.3" y1="238.89" x2="996.5" y2="238.89" stroke="#333" stroke-width="0.9"/>
<line x1="994.3" y1="235.06" x2="996.5" y2="235.06" stroke="#333" stroke-width="0.9"/>
<line x1="994.3" y1="231.23" x2="996.5" y2="231.23" stroke="#333" stroke-width="0.9"/>
<line x1="993.2" y1="227.40" x2="997.6" y2="227.40" stroke="#333" stroke-width="0.9"/>
<text x="998.3" y="229.90" font-size="7" fill="#333" font-family="Liberation Sans, sans-serif" textLength="23.4" lengthAdjust="spacingAndGlyphs">0.97000</text>
<line x1="994.3" y1="223.57" x2="996.5" y2="223.57" stroke="#333" stroke-width="0.9"/>
<line x1="994.3" y1="219.74" x2="996.5" y2="219.74" stroke="#333" stroke-width="0.9"/>
<line x1="994.3" y1="215.91" x2="996.5" y2="215.91" stroke="#333" stroke-width="0.9"/>
<line x1="994.3" y1="212.08" x2="996.5" y2="212.08" stroke="#333" stroke-width="0.9"/>
<line x1="994.3" y1="208.25" x2="996.5" y2="208.25" stroke="#333" stroke-width="0.9"/>
<line x1="994.3" y1="204.42" x2="996.5" y2="204.42" stroke="#333" stroke-width="0.9"/>
<line x1="994.3" y1="200.59" x2="996.5" y2="200.59" stroke="#333" stroke-width="0.9"/>
<line x1="994.3" y1="196.76" x2="996.5" y2="196.76" stroke="#333" stroke-width="0.9"/>
<line x1="994.3" y1="192.93" x2="996.5" y2="192.93" stroke="#333" stroke-width="0.9"/>
<line x1="993.2" y1="189.10" x2="997.6" y2="189.10" stroke="#333" stroke-width="0.9"/>
<text x="998.3" y="191.60" font-size="7" fill="#333" font-family="Liberation Sans, sans-serif" textLength="23.4" lengthAdjust="spacingAndGlyphs">0.98000</text>
<line x1="994.3" y1="185.27" x2="996.5" y2="185.27" stroke="#333" stroke-width="0.9"/>
<line x1="994.3" y1="181.44" x2="996.5" y2="181.44" stroke="#333" stroke-width="0.9"/>
<line x1="994.3" y1="177.61" x2="996.5" y2="177.61" stroke="#333" stroke-width="0.9"/>
<line x1="994.3" y1="173.78" x2="996.5" y2="173.78" stroke="#333" stroke-width="0.9"/>
<line x1="994.3" y1="169.95" x2="996.5" y2="169.95" stroke="#333" stroke-width="0.9"/>
<line x1="994.3" y1="166.12" x2="996.5" y2="166.12" stroke="#333" stroke-width="0.9"/>
<line x1="994.3" y1="162.29" x2="996.5" y2="162.29" stroke="#333" stroke-width="0.9"/>
<line x1="994.3" y1="158.46" x2="996.5" y2="158.46" stroke="#333" stroke-width="0.9"/>
<line x1="994.3" y1="154.63" x2="996.5" y2="154.63" stroke="#333" stroke-width="0.9"/>
<line x1="993.2" y1="150.80" x2="997.6" y2="150.80" stroke="#333" stroke-width="0.9"/>
<text x="998.3" y="153.30" font-size="7" fill="#333" font-family="Liberation Sans, sans-serif" textLength="23.4" lengthAdjust="spacingAndGlyphs">0.99000</text>
<line x1="994.3" y1="146.97" x2="996.5" y2="146.97" stroke="#333" stroke-width="0.9"/>
<line x1="994.3" y1="143.14" x2="996.5" y2="143.14" stroke="#333" stroke-width="0.9"/>
<line x1="994.3" y1="139.31" x2="996.5" y2="139.31" stroke="#333" stroke-width="0.9"/>
<line x1="994.3" y1="135.48" x2="996.5" y2="135.48" stroke="#333" stroke-width="0.9"/>
<line x1="994.3" y1="131.65" x2="996.5" y2="131.65" stroke="#333" stroke-width="0.9"/>
<line x1="994.3" y1="127.82" x2="996.5" y2="127.82" stroke="#333" stroke-width="0.9"/>
<line x1="994.3" y1="123.99" x2="996.5" y2="123.99" stroke="#333" stroke-width="0.9"/>
<line x1="994.3" y1="120.16" x2="996.5" y2="120.16" stroke="#333" stroke-width="0.9"/>
<line x1="994.3" y1="116.33" x2="996.5" y2="116.33" stroke="#333" stroke-width="0.9"/>
<line x1="993.2" y1="112.50" x2="997.6" y2="112.50" stroke="#333" stroke-width="0.9"/>
<text x="998.3" y="115.00" font-size="7" fill="#333" font-family="Liberation Sans, sans-serif" textLength="23.4" lengthAdjust="spacingAndGlyphs">1.00000</text>
<line x1="994.3" y1="108.67" x2="996.5" y2="108.67" stroke="#333" stroke-width="0.9"/>
<line x1="994.3" y1="104.84" x2="996.5" y2="104.84" stroke="#333" stroke-width="0.9"/>
<line x1="994.3" y1="101.01" x2="996.5" y2="101.01" stroke="#333" stroke-width="0.9"/>
<line x1="994.3" y1="97.18" x2="996.5" y2="97.18" stroke="#333" stroke-width="0.9"/>
<line x1="994.3" y1="93.35" x2="996.5" y2="93.35" stroke="#333" stroke-width="0.9"/>
<line x1="994.3" y1="89.52" x2="996.5" y2="89.52" stroke="#333" stroke-width="0.9"/>
<line x1="994.3" y1="85.69" x2="996.5" y2="85.69" stroke="#333" stroke-width="0.9"/>
<line x1="994.3" y1="81.86" x2="996.5" y2="81.86" stroke="#333" stroke-width="0.9"/>
<line x1="994.3" y1="78.03" x2="996.5" y2="78.03" stroke="#333" stroke-width="0.9"/>
<line x1="993.2" y1="74.20" x2="997.6" y2="74.20" stroke="#333" stroke-width="0.9"/>
<text x="998.3" y="76.70" font-size="7" fill="#333" font-family="Liberation Sans, sans-serif" textLength="23.4" lengthAdjust="spacingAndGlyphs">1.01000</text>
<line x1="994.3" y1="70.37" x2="996.5" y2="70.37" stroke="#333" stroke-width="0.9"/>
<line x1="994.3" y1="66.54" x2="996.5" y2="66.54" stroke="#333" stroke-width="0.9"/>
<line x1="994.3" y1="62.71" x2="996.5" y2="62.71" stroke="#333" stroke-width="0.9"/>
<line x1="994.3" y1="58.88" x2="996.5" y2="58.88" stroke="#333" stroke-width="0.9"/>
<line x1="994.3" y1="55.05" x2="996.5" y2="55.05" stroke="#333" stroke-width="0.9"/>
<line x1="994.3" y1="51.22" x2="996.5" y2="51.22" stroke="#333" stroke-width="0.9"/>
<line x1="994.3" y1="47.39" x2="996.5" y2="47.39" stroke="#333" stroke-width="0.9"/>
<line x1="994.3" y1="43.56" x2="996.5" y2="43.56" stroke="#333" stroke-width="0.9"/>
<line x1="994.3" y1="39.73" x2="996.5" y2="39.73" stroke="#333" stroke-width="0.9"/>
<line x1="993.2" y1="35.90" x2="997.6" y2="35.90" stroke="#333" stroke-width="0.9"/>
<text x="998.3" y="38.40" font-size="7" fill="#333" font-family="Liberation Sans, sans-serif" textLength="23.4" lengthAdjust="spacingAndGlyphs">1.02000</text>
<line x1="994.3" y1="32.07" x2="996.5" y2="32.07" stroke="#333" stroke-width="0.9"/>
<line x1="994.3" y1="28.24" x2="996.5" y2="28.24" stroke="#333" stroke-width="0.9"/>
<line x1="994.3" y1="24.41" x2="996.5" y2="24.41" stroke="#333" stroke-width="0.9"/>
<line x1="994.3" y1="20.58" x2="996.5" y2="20.58" stroke="#333" stroke-width="0.9"/>
<line x1="994.3" y1="16.75" x2="996.5" y2="16.75" stroke="#333" stroke-width="0.9"/>
<line x1="994.3" y1="12.92" x2="996.5" y2="12.92" stroke="#333" stroke-width="0.9"/>
<line x1="994.3" y1="9.09" x2="996.5" y2="9.09" stroke="#333" stroke-width="0.9"/>
<line x1="994.3" y1="5.26" x2="996.5" y2="5.26" stroke="#333" stroke-width="0.9"/>
<line x1="994.3" y1="1.43" x2="996.5" y2="1.43" stroke="#333" stroke-width="0.9"/>
<path d="M993.6 179 L997.5 174 L1023 174 L1023 183.6 L997.5 183.6 Z" fill="#ffffff" stroke="#777" stroke-width="0.6"/>
<rect x="997" y="172.8" width="26.5" height="1.5" fill="#222"/>
<text x="998.1" y="181.3" font-size="7" fill="#111" font-family="Liberation Sans, sans-serif" textLength="23.6" lengthAdjust="spacingAndGlyphs">0.98284</text>
<path d="M993.6 209.5 L997.5 204.6 L1023 204.6 L1023 214.2 L997.5 214.2 Z" fill="#f4b8b8" stroke="#a05050" stroke-width="0.6"/>
<text x="998.1" y="212.0" font-size="7" fill="#111" font-family="Liberation Sans, sans-serif" textLength="23.6" lengthAdjust="spacingAndGlyphs">0.97468</text>
<rect x="1.3" y="414.6" width="992" height="11" fill="#ffffff"/>
<line x1="1" y1="414.3" x2="993.5" y2="414.3" stroke="#d2d2c6" stroke-width="0.9"/>
<line x1="0" y1="416.2" x2="997" y2="416.2" stroke="#a5a5a5" stroke-width="0.8"/>
<line x1="0" y1="417.0" x2="997" y2="417.0" stroke="#555" stroke-width="0.9"/>
<line x1="0" y1="426.3" x2="1024" y2="426.3" stroke="#3a3a3a" stroke-width="1"/>
<line x1="78.5" y1="414" x2="78.5" y2="417" stroke="#333" stroke-width="1"/>
<text x="77.5" y="423.9" font-size="6.6" fill="#262626" text-anchor="middle" font-family="Liberation Sans, sans-serif">Apr-2023</text>
<line x1="132.4" y1="414" x2="132.4" y2="417" stroke="#333" stroke-width="1"/>
<text x="131.4" y="423.9" font-size="6.6" fill="#262626" text-anchor="middle" font-family="Liberation Sans, sans-serif">May-2023</text>
<line x1="193.4" y1="414" x2="193.4" y2="417" stroke="#333" stroke-width="1"/>
<text x="192.4" y="423.9" font-size="6.6" fill="#262626" text-anchor="middle" font-family="Liberation Sans, sans-serif">Jun-2023</text>
<line x1="252.0" y1="414" x2="252.0" y2="417" stroke="#333" stroke-width="1"/>
<text x="251.0" y="423.9" font-size="6.6" fill="#262626" text-anchor="middle" font-family="Liberation Sans, sans-serif">Jul-2023</text>
<line x1="308.6" y1="414" x2="308.6" y2="417" stroke="#333" stroke-width="1"/>
<text x="307.6" y="423.9" font-size="6.6" fill="#262626" text-anchor="middle" font-family="Liberation Sans, sans-serif">Aug-2023</text>
<line x1="370.3" y1="414" x2="370.3" y2="417" stroke="#333" stroke-width="1"/>
<text x="369.3" y="423.9" font-size="6.6" fill="#262626" text-anchor="middle" font-family="Liberation Sans, sans-serif">Sep-2023</text>
<line x1="426.6" y1="414" x2="426.6" y2="417" stroke="#333" stroke-width="1"/>
<text x="425.6" y="423.9" font-size="6.6" fill="#262626" text-anchor="middle" font-family="Liberation Sans, sans-serif">Oct-2023</text>
<line x1="484.9" y1="414" x2="484.9" y2="417" stroke="#333" stroke-width="1"/>
<text x="483.9" y="423.9" font-size="6.6" fill="#262626" text-anchor="middle" font-family="Liberation Sans, sans-serif">Nov-2023</text>
<line x1="543.8" y1="414" x2="543.8" y2="417" stroke="#333" stroke-width="1"/>
<text x="542.8" y="423.9" font-size="6.6" fill="#262626" text-anchor="middle" font-family="Liberation Sans, sans-serif">Dec-2023</text>
<line x1="597.7" y1="414" x2="597.7" y2="417" stroke="#333" stroke-width="1"/>
<text x="596.7" y="423.9" font-size="6.6" fill="#262626" text-anchor="middle" font-family="Liberation Sans, sans-serif">Jan-2024</text>
<line x1="656.0" y1="414" x2="656.0" y2="417" stroke="#333" stroke-width="1"/>
<text x="655.0" y="423.9" font-size="6.6" fill="#262626" text-anchor="middle" font-family="Liberation Sans, sans-serif">Feb-2024</text>
<line x1="712.0" y1="414" x2="712.0" y2="417" stroke="#333" stroke-width="1"/>
<text x="711.0" y="423.9" font-size="6.6" fill="#262626" text-anchor="middle" font-family="Liberation Sans, sans-serif">Mar-2024</text>
<line x1="768.3" y1="414" x2="768.3" y2="417" stroke="#333" stroke-width="1"/>
<text x="767.3" y="423.9" font-size="6.6" fill="#262626" text-anchor="middle" font-family="Liberation Sans, sans-serif">Apr-2024</text>
<line x1="843.1" y1="414" x2="843.1" y2="417" stroke="#333" stroke-width="1"/>
<text x="842.1" y="423.9" font-size="6.6" fill="#262626" text-anchor="middle" font-family="Liberation Sans, sans-serif">May-2024</text>
<line x1="875.4" y1="414" x2="875.4" y2="417" stroke="#333" stroke-width="1"/>
<text x="874.4" y="423.9" font-size="6.6" fill="#262626" text-anchor="middle" font-family="Liberation Sans, sans-serif">May-13</text>
<line x1="925.9" y1="414" x2="925.9" y2="417" stroke="#333" stroke-width="1"/>
<text x="924.9" y="423.9" font-size="6.6" fill="#262626" text-anchor="middle" font-family="Liberation Sans, sans-serif">Jun-2024</text>
<line x1="957.7" y1="414" x2="957.7" y2="417" stroke="#333" stroke-width="1"/>
<text x="956.7" y="423.9" font-size="6.6" fill="#262626" text-anchor="middle" font-family="Liberation Sans, sans-serif">Jun-13</text>
<line x1="1" y1="437.3" x2="996" y2="437.3" stroke="#333" stroke-width="0.9"/>
<line x1="1" y1="451.2" x2="996" y2="451.2" stroke="#333" stroke-width="0.95" stroke-dasharray="2.2 1.8"/>
<line x1="1" y1="465.0" x2="996" y2="465.0" stroke="#333" stroke-width="0.9"/>
<path d="M0.0 468.7 L1.0 468.6 L2.0 468.5 L3.0 468.3 L4.0 468.1 L5.0 467.6 L6.0 466.8 L7.0 465.5 L8.0 463.6 L9.0 461.2 L10.0 458.1 L11.0 454.5 L12.0 450.8 L13.0 447.1 L14.0 443.3 L15.0 440.2 L16.0 437.5 L17.0 435.6 L18.0 434.6 L19.0 434.6 L20.0 435.2 L21.0 436.4 L22.0 438.0 L23.0 439.6 L24.0 441.4 L25.0 443.2 L26.0 445.2 L27.0 447.1 L28.0 448.8 L29.0 450.3 L30.0 451.6 L31.0 453.0 L32.0 454.4 L33.0 456.2 L34.0 458.2 L35.0 460.4 L36.0 462.6 L37.0 464.2 L38.0 465.2 L39.0 465.7 L40.0 465.7 L41.0 464.8 L42.0 463.8 L43.0 462.5 L44.0 461.1 L45.0 459.8 L46.0 458.5 L47.0 457.4 L48.0 456.5 L49.0 455.7 L50.0 454.9 L51.0 453.8 L52.0 452.6 L53.0 451.1 L54.0 449.5 L55.0 447.7 L56.0 445.8 L57.0 443.9 L58.0 441.9 L59.0 440.4 L60.0 439.3 L61.0 438.7 L62.0 438.7 L63.0 439.3 L64.0 440.0 L65.0 440.7 L66.0 441.2 L67.0 441.3 L68.0 440.8 L69.0 439.8 L70.0 438.6 L71.0 437.5 L72.0 436.5 L73.0 436.0 L74.0 435.9 L75.0 435.9 L76.0 436.1 L77.0 436.4 L78.0 436.7 L79.0 436.8 L80.0 437.0 L81.0 437.5 L82.0 438.2 L83.0 439.7 L84.0 441.8 L85.0 444.3 L86.0 446.9 L87.0 449.8 L88.0 452.4 L89.0 454.9 L90.0 457.0 L91.0 459.0 L92.0 460.7 L93.0 462.3 L94.0 463.7 L95.0 465.0 L96.0 466.1 L97.0 466.9 L98.0 467.6 L99.0 468.1 L100.0 468.3 L101.0 468.4 L102.0 468.4 L103.0 468.3 L104.0 468.1 L105.0 467.9 L106.0 467.9 L107.0 467.9 L108.0 467.9 L109.0 467.9 L110.0 467.9 L111.0 467.7 L112.0 467.8 L113.0 468.1 L114.0 468.5 L115.0 468.9 L116.0 469.2 L117.0 469.3 L118.0 469.2 L119.0 468.8 L120.0 468.6 L121.0 468.5 L122.0 468.6 L123.0 468.3 L124.0 467.4 L125.0 465.8 L126.0 463.0 L127.0 459.1 L128.0 455.6 L129.0 452.4 L130.0 449.7 L131.0 448.0 L132.0 447.4 L133.0 447.2 L134.0 447.5 L135.0 448.1 L136.0 448.9 L137.0 450.4 L138.0 452.5 L139.0 454.9 L140.0 457.6 L141.0 460.5 L142.0 461.7 L143.0 461.8 L144.0 461.4 L145.0 460.6 L146.0 459.4 L147.0 459.0 L148.0 459.4 L149.0 460.1 L150.0 460.9 L151.0 461.7 L152.0 462.2 L153.0 462.7 L154.0 463.2 L155.0 463.7 L156.0 464.2 L157.0 464.9 L158.0 465.5 L159.0 466.1 L160.0 466.6 L161.0 467.1 L162.0 467.4 L163.0 467.7 L164.0 467.9 L165.0 467.9 L166.0 467.8 L167.0 467.6 L168.0 467.5 L169.0 467.6 L170.0 467.8 L171.0 468.0 L172.0 468.1 L173.0 468.1 L174.0 467.9 L175.0 467.6 L176.0 467.3 L177.0 466.9 L178.0 466.4 L179.0 465.8 L180.0 465.2 L181.0 464.6 L182.0 464.1 L183.0 463.8 L184.0 463.8 L185.0 464.2 L186.0 464.8 L187.0 464.8 L188.0 464.4 L189.0 463.0 L190.0 460.8 L191.0 457.5 L192.0 454.3 L193.0 451.1 L194.0 448.3 L195.0 446.2 L196.0 445.0 L197.0 444.4 L198.0 444.6 L199.0 445.6 L200.0 446.8 L201.0 448.3 L202.0 449.9 L203.0 450.5 L204.0 450.2 L205.0 450.5 L206.0 451.1 L207.0 451.4 L208.0 452.3 L209.0 453.8 L210.0 454.4 L211.0 453.6 L212.0 452.1 L213.0 450.0 L214.0 447.5 L215.0 445.1 L216.0 443.3 L217.0 442.2 L218.0 441.4 L219.0 441.0 L220.0 440.8 L221.0 440.6 L222.0 440.2 L223.0 439.5 L224.0 438.7 L225.0 437.7 L226.0 436.8 L227.0 436.0 L228.0 435.5 L229.0 435.0 L230.0 434.4 L231.0 433.7 L232.0 433.4 L233.0 433.4 L234.0 433.8 L235.0 434.8 L236.0 436.4 L237.0 438.1 L238.0 439.9 L239.0 441.6 L240.0 442.8 L241.0 443.3 L242.0 443.5 L243.0 443.4 L244.0 443.1 L245.0 443.0 L246.0 443.5 L247.0 444.3 L248.0 445.4 L249.0 446.6 L250.0 447.9 L251.0 449.0 L252.0 449.8 L253.0 450.5 L254.0 451.2 L255.0 452.1 L256.0 453.2 L257.0 454.4 L258.0 455.6 L259.0 456.9 L260.0 458.1 L261.0 459.2 L262.0 460.3 L263.0 461.2 L264.0 462.0 L265.0 462.8 L266.0 463.7 L267.0 464.6 L268.0 465.6 L269.0 466.6 L270.0 467.5 L271.0 468.1 L272.0 468.4 L273.0 468.4 L274.0 467.9 L275.0 467.1 L276.0 466.1 L277.0 465.1 L278.0 464.1 L279.0 463.6 L280.0 463.5 L281.0 463.9 L282.0 464.6 L283.0 465.6 L284.0 466.6 L285.0 467.3 L286.0 467.6 L287.0 467.7 L288.0 467.5 L289.0 467.1 L290.0 466.8 L291.0 466.6 L292.0 466.5 L293.0 466.6 L294.0 467.0 L295.0 467.7 L296.0 468.4 L297.0 469.3 L298.0 470.0 L299.0 470.5 L300.0 470.7 L301.0 470.5 L302.0 469.9 L303.0 468.9 L304.0 467.5 L305.0 465.8 L306.0 463.8 L307.0 461.7 L308.0 459.6 L309.0 457.7 L310.0 456.1 L311.0 455.0 L312.0 454.4 L313.0 454.4 L314.0 454.3 L315.0 454.1 L316.0 453.6 L317.0 452.7 L318.0 451.7 L319.0 450.7 L320.0 450.0 L321.0 449.4 L322.0 448.7 L323.0 447.7 L324.0 446.5 L325.0 445.1 L326.0 443.7 L327.0 442.4 L328.0 441.6 L329.0 441.2 L330.0 441.3 L331.0 441.9 L332.0 443.0 L333.0 444.3 L334.0 445.6 L335.0 446.9 L336.0 448.0 L337.0 449.1 L338.0 450.5 L339.0 452.3 L340.0 454.6 L341.0 457.2 L342.0 458.8 L343.0 459.4 L344.0 459.2 L345.0 458.3 L346.0 456.8 L347.0 456.1 L348.0 456.3 L349.0 457.0 L350.0 458.0 L351.0 459.3 L352.0 460.6 L353.0 461.4 L354.0 461.8 L355.0 461.8 L356.0 461.6 L357.0 461.1 L358.0 460.8 L359.0 460.6 L360.0 460.5 L361.0 460.3 L362.0 460.1 L363.0 459.3 L364.0 458.2 L365.0 456.8 L366.0 455.1 L367.0 453.1 L368.0 451.9 L369.0 451.3 L370.0 451.4 L371.0 452.1 L372.0 453.4 L373.0 454.6 L374.0 455.7 L375.0 456.7 L376.0 457.5 L377.0 457.9 L378.0 457.7 L379.0 457.4 L380.0 456.9 L381.0 456.3 L382.0 456.0 L383.0 455.7 L384.0 455.3 L385.0 454.7 L386.0 453.5 L387.0 451.9 L388.0 450.1 L389.0 448.1 L390.0 446.0 L391.0 444.2 L392.0 443.9 L393.0 445.0 L394.0 447.0 L395.0 448.7 L396.0 450.3 L397.0 450.8 L398.0 450.2 L399.0 448.3 L400.0 446.3 L401.0 444.6 L402.0 443.2 L403.0 442.1 L404.0 441.4 L405.0 441.0 L406.0 440.6 L407.0 440.2 L408.0 439.6 L409.0 438.9 L410.0 438.1 L411.0 437.5 L412.0 437.0 L413.0 436.4 L414.0 435.7 L415.0 434.8 L416.0 434.1 L417.0 433.5 L418.0 433.1 L419.0 432.9 L420.0 433.0 L421.0 433.1 L422.0 433.1 L423.0 433.3 L424.0 433.7 L425.0 434.5 L426.0 435.6 L427.0 437.0 L428.0 438.3 L429.0 439.4 L430.0 440.3 L431.0 441.1 L432.0 441.7 L433.0 442.4 L434.0 443.1 L435.0 444.1 L436.0 445.1 L437.0 446.2 L438.0 447.7 L439.0 449.6 L440.0 451.8 L441.0 454.0 L442.0 456.3 L443.0 458.4 L444.0 460.2 L445.0 461.6 L446.0 462.8 L447.0 463.9 L448.0 464.7 L449.0 465.4 L450.0 466.0 L451.0 466.3 L452.0 466.4 L453.0 466.3 L454.0 466.0 L455.0 465.5 L456.0 465.3 L457.0 465.4 L458.0 465.8 L459.0 466.4 L460.0 467.4 L461.0 468.3 L462.0 468.9 L463.0 469.1 L464.0 469.0 L465.0 468.3 L466.0 466.9 L467.0 465.8 L468.0 464.8 L469.0 464.1 L470.0 463.8 L471.0 463.7 L472.0 463.5 L473.0 463.0 L474.0 462.1 L475.0 460.7 L476.0 459.1 L477.0 457.0 L478.0 454.3 L479.0 451.5 L480.0 448.6 L481.0 445.7 L482.0 442.9 L483.0 440.6 L484.0 438.9 L485.0 437.5 L486.0 436.4 L487.0 435.4 L488.0 434.5 L489.0 433.5 L490.0 432.4 L491.0 431.5 L492.0 431.0 L493.0 430.6 L494.0 430.4 L495.0 430.3 L496.0 430.5 L497.0 430.6 L498.0 430.8 L499.0 431.0 L500.0 431.1 L501.0 431.2 L502.0 431.3 L503.0 431.3 L504.0 431.3 L505.0 431.2 L506.0 431.0 L507.0 430.9 L508.0 430.8 L509.0 430.7 L510.0 431.1 L511.0 431.7 L512.0 432.5 L513.0 433.5 L514.0 434.5 L515.0 435.2 L516.0 435.7 L517.0 435.9 L518.0 435.7 L519.0 435.2 L520.0 434.6 L521.0 434.3 L522.0 434.7 L523.0 436.0 L524.0 438.3 L525.0 441.3 L526.0 444.1 L527.0 446.8 L528.0 448.5 L529.0 449.4 L530.0 449.3 L531.0 449.0 L532.0 448.3 L533.0 447.9 L534.0 447.8 L535.0 448.1 L536.0 448.7 L537.0 450.3 L538.0 452.8 L539.0 455.5 L540.0 458.1 L541.0 460.7 L542.0 462.5 L543.0 463.8 L544.0 465.0 L545.0 466.1 L546.0 467.3 L547.0 468.4 L548.0 469.3 L549.0 470.0 L550.0 470.6 L551.0 471.2 L552.0 471.7 L553.0 471.8 L554.0 471.5 L555.0 471.0 L556.0 470.2 L557.0 469.1 L558.0 468.1 L559.0 467.2 L560.0 466.5 L561.0 466.1 L562.0 465.8 L563.0 465.6 L564.0 465.3 L565.0 464.6 L566.0 463.6 L567.0 462.2 L568.0 460.4 L569.0 459.1 L570.0 458.3 L571.0 457.9 L572.0 457.9 L573.0 458.5 L574.0 458.9 L575.0 459.4 L576.0 459.8 L577.0 460.2 L578.0 460.7 L579.0 461.2 L580.0 461.7 L581.0 462.4 L582.0 463.0 L583.0 463.6 L584.0 464.0 L585.0 464.3 L586.0 464.4 L587.0 464.7 L588.0 465.3 L589.0 466.0 L590.0 466.5 L591.0 466.7 L592.0 466.6 L593.0 466.4 L594.0 466.0 L595.0 465.8 L596.0 465.9 L597.0 466.3 L598.0 466.7 L599.0 467.2 L600.0 467.5 L601.0 467.6 L602.0 467.6 L603.0 467.5 L604.0 467.2 L605.0 467.1 L606.0 466.9 L607.0 466.9 L608.0 466.8 L609.0 466.5 L610.0 466.0 L611.0 465.2 L612.0 464.1 L613.0 462.7 L614.0 461.2 L615.0 459.7 L616.0 458.2 L617.0 457.1 L618.0 456.1 L619.0 455.2 L620.0 454.3 L621.0 453.2 L622.0 452.0 L623.0 450.6 L624.0 449.1 L625.0 447.4 L626.0 445.5 L627.0 443.4 L628.0 441.2 L629.0 438.9 L630.0 436.8 L631.0 435.1 L632.0 433.7 L633.0 432.7 L634.0 432.1 L635.0 431.8 L636.0 431.9 L637.0 432.4 L638.0 433.4 L639.0 434.7 L640.0 436.3 L641.0 438.1 L642.0 439.8 L643.0 441.3 L644.0 442.8 L645.0 444.3 L646.0 445.9 L647.0 447.9 L648.0 450.3 L649.0 452.8 L650.0 455.5 L651.0 458.2 L652.0 460.5 L653.0 462.4 L654.0 464.1 L655.0 465.4 L656.0 466.3 L657.0 466.6 L658.0 466.5 L659.0 466.0 L660.0 465.4 L661.0 464.6 L662.0 464.0 L663.0 463.5 L664.0 463.2 L665.0 462.4 L666.0 461.0 L667.0 459.0 L668.0 456.4 L669.0 453.4 L670.0 450.4 L671.0 447.9 L672.0 445.7 L673.0 443.7 L674.0 441.9 L675.0 440.2 L676.0 438.6 L677.0 437.0 L678.0 435.8 L679.0 434.7 L680.0 433.8 L681.0 433.2 L682.0 432.9 L683.0 432.5 L684.0 432.2 L685.0 432.0 L686.0 431.6 L687.0 431.3 L688.0 430.9 L689.0 430.5 L690.0 430.2 L691.0 430.0 L692.0 430.0 L693.0 430.1 L694.0 430.3 L695.0 430.3 L696.0 430.4 L697.0 430.3 L698.0 430.2 L699.0 430.0 L700.0 429.9 L701.0 429.9 L702.0 430.1 L703.0 430.6 L704.0 431.3 L705.0 432.2 L706.0 433.2 L707.0 433.7 L708.0 434.0 L709.0 434.0 L710.0 433.8 L711.0 433.4 L712.0 433.2 L713.0 433.3 L714.0 433.5 L715.0 433.9 L716.0 434.2 L717.0 434.5 L718.0 434.7 L719.0 434.9 L720.0 434.9 L721.0 434.9 L722.0 434.9 L723.0 434.9 L724.0 435.1 L725.0 435.4 L726.0 436.0 L727.0 436.8 L728.0 437.8 L729.0 438.8 L730.0 439.8 L731.0 440.4 L732.0 440.5 L733.0 440.1 L734.0 439.4 L735.0 438.3 L736.0 437.2 L737.0 436.1 L738.0 435.1 L739.0 434.2 L740.0 433.3 L741.0 432.4 L742.0 431.7 L743.0 431.3 L744.0 431.1 L745.0 431.0 L746.0 431.0 L747.0 431.0 L748.0 431.1 L749.0 431.4 L750.0 431.9 L751.0 433.0 L752.0 434.5 L753.0 435.9 L754.0 436.9 L755.0 437.5 L756.0 437.5 L757.0 437.2 L758.0 436.6 L759.0 436.1 L760.0 435.8 L761.0 435.8 L762.0 436.1 L763.0 436.6 L764.0 437.2 L765.0 438.3 L766.0 439.5 L767.0 440.5 L768.0 441.6 L769.0 442.6 L770.0 443.0 L771.0 442.9 L772.0 442.2 L773.0 441.2 L774.0 440.1 L775.0 439.4 L776.0 439.3 L777.0 439.5 L778.0 440.0 L779.0 440.6" fill="none" stroke="#cc2222" stroke-width="0.75"/>
<path d="M0.0 468.7 L1.0 468.4 L2.0 468.1 L3.0 467.9 L4.0 467.4 L5.0 466.1 L6.0 464.8 L7.0 462.1 L8.0 458.6 L9.0 455.0 L10.0 451.0 L11.0 447.0 L12.0 443.3 L13.0 439.8 L14.0 436.4 L15.0 434.9 L16.0 433.4 L17.0 433.4 L18.0 434.9 L19.0 436.4 L20.0 437.9 L21.0 439.4 L22.0 441.1 L23.0 443.1 L24.0 445.1 L25.0 447.1 L26.0 449.1 L27.0 450.7 L28.0 451.7 L29.0 452.7 L30.0 453.7 L31.0 455.5 L32.0 458.0 L33.0 460.5 L34.0 462.6 L35.0 464.7 L36.0 466.8 L37.0 466.4 L38.0 465.9 L39.0 465.3 L40.0 464.1 L41.0 462.6 L42.0 461.1 L43.0 459.5 L44.0 458.5 L45.0 457.5 L46.0 456.5 L47.0 455.5 L48.0 455.0 L49.0 454.5 L50.0 453.2 L51.0 451.2 L52.0 449.2 L53.0 447.7 L54.0 446.2 L55.0 444.4 L56.0 442.1 L57.0 439.8 L58.0 437.7 L59.0 438.2 L60.0 438.6 L61.0 439.0 L62.0 439.8 L63.0 440.7 L64.0 441.5 L65.0 442.3 L66.0 441.9 L67.0 440.1 L68.0 438.2 L69.0 437.0 L70.0 436.4 L71.0 435.9 L72.0 435.4 L73.0 435.5 L74.0 436.0 L75.0 436.6 L76.0 437.1 L77.0 437.0 L78.0 436.7 L79.0 436.5 L80.0 437.6 L81.0 439.1 L82.0 440.9 L83.0 443.9 L84.0 446.9 L85.0 449.7 L86.0 452.4 L87.0 455.1 L88.0 457.4 L89.0 459.1 L90.0 460.7 L91.0 462.4 L92.0 463.8 L93.0 465.0 L94.0 466.2 L95.0 467.4 L96.0 467.9 L97.0 468.1 L98.0 468.4 L99.0 468.7 L100.0 468.5 L101.0 468.3 L102.0 468.1 L103.0 467.9 L104.0 467.7 L105.0 467.8 L106.0 467.9 L107.0 468.0 L108.0 468.1 L109.0 467.8 L110.0 467.5 L111.0 467.2 L112.0 468.1 L113.0 469.3 L114.0 470.1 L115.0 469.6 L116.0 469.1 L117.0 468.6 L118.0 468.5 L119.0 468.3 L120.0 468.2 L121.0 468.7 L122.0 469.2 L123.0 467.3 L124.0 463.8 L125.0 460.2 L126.0 455.2 L127.0 450.3 L128.0 448.8 L129.0 447.3 L130.0 446.7 L131.0 447.0 L132.0 447.2 L133.0 447.8 L134.0 448.7 L135.0 449.6 L136.0 450.9 L137.0 454.4 L138.0 457.9 L139.0 460.8 L140.0 463.3 L141.0 465.4 L142.0 461.8 L143.0 459.1 L144.0 458.6 L145.0 458.1 L146.0 458.9 L147.0 460.0 L148.0 461.2 L149.0 462.0 L150.0 462.3 L151.0 462.6 L152.0 463.0 L153.0 463.5 L154.0 464.2 L155.0 464.8 L156.0 465.5 L157.0 466.1 L158.0 466.6 L159.0 467.1 L160.0 467.7 L161.0 467.8 L162.0 467.9 L163.0 468.1 L164.0 468.1 L165.0 467.7 L166.0 467.2 L167.0 467.0 L168.0 467.6 L169.0 468.3 L170.0 468.6 L171.0 468.2 L172.0 467.9 L173.0 467.6 L174.0 467.3 L175.0 467.1 L176.0 466.7 L177.0 465.9 L178.0 465.1 L179.0 464.4 L180.0 464.0 L181.0 463.7 L182.0 463.4 L183.0 463.3 L184.0 464.5 L185.0 465.8 L186.0 466.6 L187.0 464.1 L188.0 461.6 L189.0 458.2 L190.0 454.2 L191.0 450.3 L192.0 447.8 L193.0 445.3 L194.0 444.0 L195.0 444.0 L196.0 444.0 L197.0 444.4 L198.0 446.4 L199.0 448.4 L200.0 450.1 L201.0 451.6 L202.0 452.6 L203.0 449.9 L204.0 447.6 L205.0 450.6 L206.0 453.6 L207.0 454.5 L208.0 454.9 L209.0 455.3 L210.0 453.7 L211.0 450.2 L212.0 446.7 L213.0 444.7 L214.0 442.7 L215.0 441.4 L216.0 441.2 L217.0 441.0 L218.0 440.8 L219.0 440.6 L220.0 440.5 L221.0 440.3 L222.0 439.2 L223.0 437.3 L224.0 436.2 L225.0 435.9 L226.0 435.6 L227.0 435.2 L228.0 434.6 L229.0 433.8 L230.0 433.0 L231.0 432.2 L232.0 433.2 L233.0 434.4 L234.0 435.9 L235.0 437.9 L236.0 439.9 L237.0 441.7 L238.0 443.5 L239.0 444.6 L240.0 443.8 L241.0 443.0 L242.0 442.9 L243.0 443.0 L244.0 443.1 L245.0 443.3 L246.0 445.0 L247.0 446.7 L248.0 448.5 L249.0 449.4 L250.0 449.8 L251.0 450.2 L252.0 451.0 L253.0 452.0 L254.0 453.0 L255.0 454.2 L256.0 455.5 L257.0 456.9 L258.0 458.2 L259.0 459.4 L260.0 460.3 L261.0 461.2 L262.0 462.0 L263.0 462.8 L264.0 463.5 L265.0 464.2 L266.0 465.4 L267.0 466.6 L268.0 467.8 L269.0 468.9 L270.0 468.7 L271.0 468.5 L272.0 468.3 L273.0 467.8 L274.0 466.3 L275.0 464.8 L276.0 463.5 L277.0 463.1 L278.0 462.7 L279.0 463.3 L280.0 464.5 L281.0 465.7 L282.0 466.6 L283.0 467.6 L284.0 468.5 L285.0 468.1 L286.0 467.4 L287.0 466.9 L288.0 466.7 L289.0 466.6 L290.0 466.4 L291.0 466.3 L292.0 466.3 L293.0 467.4 L294.0 468.5 L295.0 469.5 L296.0 470.3 L297.0 470.7 L298.0 471.0 L299.0 471.0 L300.0 470.3 L301.0 469.6 L302.0 467.9 L303.0 466.0 L304.0 464.1 L305.0 462.0 L306.0 459.7 L307.0 457.4 L308.0 455.3 L309.0 454.5 L310.0 453.7 L311.0 453.9 L312.0 454.5 L313.0 455.2 L314.0 454.5 L315.0 452.8 L316.0 451.1 L317.0 450.2 L318.0 449.9 L319.0 449.6 L320.0 449.3 L321.0 448.3 L322.0 446.6 L323.0 445.0 L324.0 443.5 L325.0 442.4 L326.0 441.3 L327.0 440.1 L328.0 440.5 L329.0 441.7 L330.0 442.9 L331.0 444.2 L332.0 445.6 L333.0 446.9 L334.0 448.1 L335.0 449.1 L336.0 450.1 L337.0 451.1 L338.0 453.4 L339.0 457.0 L340.0 460.6 L341.0 463.1 L342.0 460.1 L343.0 457.1 L344.0 455.9 L345.0 455.7 L346.0 455.5 L347.0 456.3 L348.0 457.8 L349.0 459.3 L350.0 460.7 L351.0 461.9 L352.0 463.1 L353.0 462.3 L354.0 461.6 L355.0 460.8 L356.0 460.6 L357.0 460.6 L358.0 460.6 L359.0 460.6 L360.0 460.2 L361.0 459.8 L362.0 459.3 L363.0 457.4 L364.0 455.1 L365.0 452.9 L366.0 451.2 L367.0 449.5 L368.0 450.4 L369.0 452.1 L370.0 453.7 L371.0 454.7 L372.0 455.7 L373.0 456.7 L374.0 457.7 L375.0 458.7 L376.0 458.8 L377.0 457.5 L378.0 456.2 L379.0 456.0 L380.0 456.0 L381.0 456.0 L382.0 455.9 L383.0 454.9 L384.0 453.9 L385.0 452.9 L386.0 450.5 L387.0 448.0 L388.0 445.8 L389.0 444.0 L390.0 442.3 L391.0 441.4 L392.0 445.8 L393.0 450.2 L394.0 454.0 L395.0 452.2 L396.0 450.4 L397.0 448.5 L398.0 446.4 L399.0 444.3 L400.0 442.6 L401.0 441.8 L402.0 441.0 L403.0 440.7 L404.0 440.7 L405.0 440.7 L406.0 440.0 L407.0 438.9 L408.0 437.9 L409.0 437.1 L410.0 436.9 L411.0 436.6 L412.0 436.3 L413.0 435.1 L414.0 433.8 L415.0 432.6 L416.0 432.8 L417.0 432.9 L418.0 433.0 L419.0 433.1 L420.0 433.1 L421.0 433.1 L422.0 433.1 L423.0 433.8 L424.0 435.4 L425.0 437.0 L426.0 438.5 L427.0 440.0 L428.0 440.6 L429.0 441.0 L430.0 441.4 L431.0 442.2 L432.0 443.1 L433.0 443.9 L434.0 444.8 L435.0 446.1 L436.0 447.4 L437.0 448.7 L438.0 451.1 L439.0 454.1 L440.0 457.0 L441.0 458.6 L442.0 460.3 L443.0 461.9 L444.0 462.9 L445.0 463.9 L446.0 464.9 L447.0 465.7 L448.0 466.1 L449.0 466.4 L450.0 466.7 L451.0 466.6 L452.0 466.1 L453.0 465.5 L454.0 465.0 L455.0 464.4 L456.0 465.3 L457.0 466.4 L458.0 467.5 L459.0 468.4 L460.0 469.2 L461.0 470.0 L462.0 469.6 L463.0 468.8 L464.0 467.6 L465.0 465.6 L466.0 463.6 L467.0 463.4 L468.0 463.8 L469.0 464.1 L470.0 464.0 L471.0 463.3 L472.0 462.5 L473.0 461.6 L474.0 459.5 L475.0 457.4 L476.0 455.2 L477.0 451.9 L478.0 448.6 L479.0 445.2 L480.0 442.8 L481.0 440.3 L482.0 437.9 L483.0 437.0 L484.0 436.7 L485.0 436.1 L486.0 434.6 L487.0 433.1 L488.0 432.2 L489.0 431.5 L490.0 430.9 L491.0 430.2 L492.0 430.2 L493.0 430.3 L494.0 430.5 L495.0 430.6 L496.0 430.8 L497.0 431.0 L498.0 431.2 L499.0 431.3 L500.0 431.3 L501.0 431.3 L502.0 431.3 L503.0 431.3 L504.0 431.1 L505.0 430.9 L506.0 430.7 L507.0 430.6 L508.0 430.6 L509.0 430.7 L510.0 432.6 L511.0 433.6 L512.0 434.6 L513.0 435.6 L514.0 435.9 L515.0 436.1 L516.0 436.3 L517.0 435.7 L518.0 434.5 L519.0 433.4 L520.0 433.2 L521.0 435.0 L522.0 436.8 L523.0 440.6 L524.0 444.8 L525.0 448.2 L526.0 449.4 L527.0 450.6 L528.0 450.0 L529.0 448.9 L530.0 447.7 L531.0 447.5 L532.0 447.6 L533.0 447.8 L534.0 448.4 L535.0 449.2 L536.0 450.3 L537.0 455.0 L538.0 459.7 L539.0 462.1 L540.0 462.6 L541.0 463.1 L542.0 464.7 L543.0 466.2 L544.0 467.7 L545.0 468.6 L546.0 469.3 L547.0 470.0 L548.0 470.6 L549.0 471.2 L550.0 471.7 L551.0 472.3 L552.0 472.6 L553.0 471.4 L554.0 470.2 L555.0 468.9 L556.0 468.0 L557.0 467.1 L558.0 466.3 L559.0 465.6 L560.0 465.6 L561.0 465.6 L562.0 465.6 L563.0 465.6 L564.0 464.3 L565.0 462.4 L566.0 460.4 L567.0 458.5 L568.0 456.8 L569.0 457.4 L570.0 458.0 L571.0 458.5 L572.0 458.9 L573.0 459.3 L574.0 459.7 L575.0 460.2 L576.0 460.6 L577.0 461.1 L578.0 461.6 L579.0 462.2 L580.0 463.0 L581.0 463.9 L582.0 464.4 L583.0 464.4 L584.0 464.4 L585.0 464.4 L586.0 464.7 L587.0 465.8 L588.0 466.9 L589.0 467.9 L590.0 467.2 L591.0 466.0 L592.0 465.2 L593.0 465.5 L594.0 465.8 L595.0 466.1 L596.0 466.6 L597.0 467.2 L598.0 467.7 L599.0 468.1 L600.0 467.8 L601.0 467.5 L602.0 467.1 L603.0 466.9 L604.0 466.9 L605.0 466.9 L606.0 466.9 L607.0 466.9 L608.0 466.6 L609.0 465.5 L610.0 464.3 L611.0 463.2 L612.0 461.4 L613.0 459.6 L614.0 457.9 L615.0 456.5 L616.0 456.0 L617.0 455.5 L618.0 454.9 L619.0 453.5 L620.0 452.1 L621.0 450.7 L622.0 449.2 L623.0 447.7 L624.0 446.2 L625.0 443.9 L626.0 441.2 L627.0 438.6 L628.0 436.6 L629.0 434.6 L630.0 433.3 L631.0 432.5 L632.0 431.7 L633.0 431.5 L634.0 431.7 L635.0 431.9 L636.0 432.6 L637.0 434.3 L638.0 436.0 L639.0 438.0 L640.0 440.0 L641.0 441.7 L642.0 442.7 L643.0 443.7 L644.0 445.4 L645.0 447.4 L646.0 449.6 L647.0 452.6 L648.0 455.6 L649.0 458.3 L650.0 460.8 L651.0 463.2 L652.0 464.3 L653.0 465.5 L654.0 466.6 L655.0 467.2 L656.0 467.7 L657.0 466.4 L658.0 465.1 L659.0 464.2 L660.0 463.9 L661.0 463.5 L662.0 463.2 L663.0 462.9 L664.0 462.7 L665.0 460.3 L666.0 456.5 L667.0 452.8 L668.0 450.3 L669.0 447.8 L670.0 445.3 L671.0 443.6 L672.0 441.9 L673.0 440.3 L674.0 438.6 L675.0 437.1 L676.0 435.6 L677.0 434.0 L678.0 433.6 L679.0 433.2 L680.0 432.8 L681.0 432.5 L682.0 432.2 L683.0 432.0 L684.0 431.7 L685.0 431.4 L686.0 431.0 L687.0 430.5 L688.0 430.0 L689.0 429.6 L690.0 429.8 L691.0 430.1 L692.0 430.4 L693.0 430.6 L694.0 430.4 L695.0 430.3 L696.0 430.2 L697.0 430.0 L698.0 429.9 L699.0 429.8 L700.0 429.6 L701.0 430.1 L702.0 431.1 L703.0 432.1 L704.0 433.1 L705.0 434.1 L706.0 435.1 L707.0 434.4 L708.0 433.6 L709.0 432.9 L710.0 432.8 L711.0 433.2 L712.0 433.5 L713.0 433.8 L714.0 434.2 L715.0 434.5 L716.0 434.8 L717.0 435.2 L718.0 435.0 L719.0 434.9 L720.0 434.8 L721.0 434.7 L722.0 435.0 L723.0 435.2 L724.0 435.5 L725.0 436.3 L726.0 437.6 L727.0 439.0 L728.0 440.3 L729.0 440.8 L730.0 441.3 L731.0 440.8 L732.0 439.5 L733.0 438.3 L734.0 437.2 L735.0 436.2 L736.0 435.2 L737.0 434.2 L738.0 433.3 L739.0 432.4 L740.0 431.5 L741.0 430.7 L742.0 430.8 L743.0 431.1 L744.0 431.3 L745.0 431.1 L746.0 430.9 L747.0 430.7 L748.0 431.3 L749.0 432.6 L750.0 433.9 L751.0 435.9 L752.0 437.9 L753.0 438.6 L754.0 437.8 L755.0 437.1 L756.0 436.4 L757.0 436.1 L758.0 435.8 L759.0 435.5 L760.0 435.2 L761.0 436.2 L762.0 437.3 L763.0 438.5 L764.0 439.0 L765.0 440.3 L766.0 441.6 L767.0 442.8 L768.0 444.1 L769.0 444.1 L770.0 442.5 L771.0 440.9 L772.0 439.9 L773.0 438.9 L774.0 438.5 L775.0 439.3 L776.0 440.1 L777.0 440.6 L778.0 441.1 L779.0 441.5" fill="none" stroke="#111" stroke-width="0.85"/>
<text x="3.6" y="435.2" font-size="6.6" font-weight="bold" fill="#222" font-family="Liberation Sans, sans-serif" textLength="46.5" lengthAdjust="spacingAndGlyphs">STOSlow(14,3)</text>
<path d="M993.2 437.3 L997 433.8 L1012 433.8 L1012 440.8 L997 440.8 Z" fill="#fff" stroke="#555" stroke-width="0.7"/>
<text x="998.2" y="439.6" font-size="6.2" fill="#222" font-family="Liberation Sans, sans-serif" textLength="12.2" lengthAdjust="spacingAndGlyphs">80.0</text>
<path d="M993.2 451.2 L997 447.7 L1012 447.7 L1012 454.7 L997 454.7 Z" fill="#fff" stroke="#555" stroke-width="0.7"/>
<text x="998.2" y="453.5" font-size="6.2" fill="#222" font-family="Liberation Sans, sans-serif" textLength="12.2" lengthAdjust="spacingAndGlyphs">50.0</text>
<path d="M993.2 465.0 L997 461.5 L1012 461.5 L1012 468.5 L997 468.5 Z" fill="#fff" stroke="#555" stroke-width="0.7"/>
<text x="998.2" y="467.3" font-size="6.2" fill="#222" font-family="Liberation Sans, sans-serif" textLength="12.2" lengthAdjust="spacingAndGlyphs">20.0</text>
<path d="M993.2 442.2 L997 438.7 L1012 438.7 L1012 445.7 L997 445.7 Z" fill="#fff" stroke="#555" stroke-width="0.7"/>
<text x="998.2" y="444.5" font-size="6.2" fill="#222" font-family="Liberation Sans, sans-serif" textLength="12.2" lengthAdjust="spacingAndGlyphs">70.1</text>
<line x1="994" y1="446.2" x2="1011" y2="446.2" stroke="#444" stroke-width="1" stroke-dasharray="1 1.2"/>
<rect x="997.1" y="466.6" width="16" height="6.8" fill="#ffffff"/>
<rect x="0" y="0" width="1024" height="1.2" fill="#333"/>
<rect x="0" y="0" width="1.3" height="475" fill="#333"/>
<rect x="1022.8" y="0" width="1.2" height="475" fill="#555"/>
<rect x="0" y="473.6" width="1024" height="1.4" fill="#333"/>
</svg>
</body></html>
